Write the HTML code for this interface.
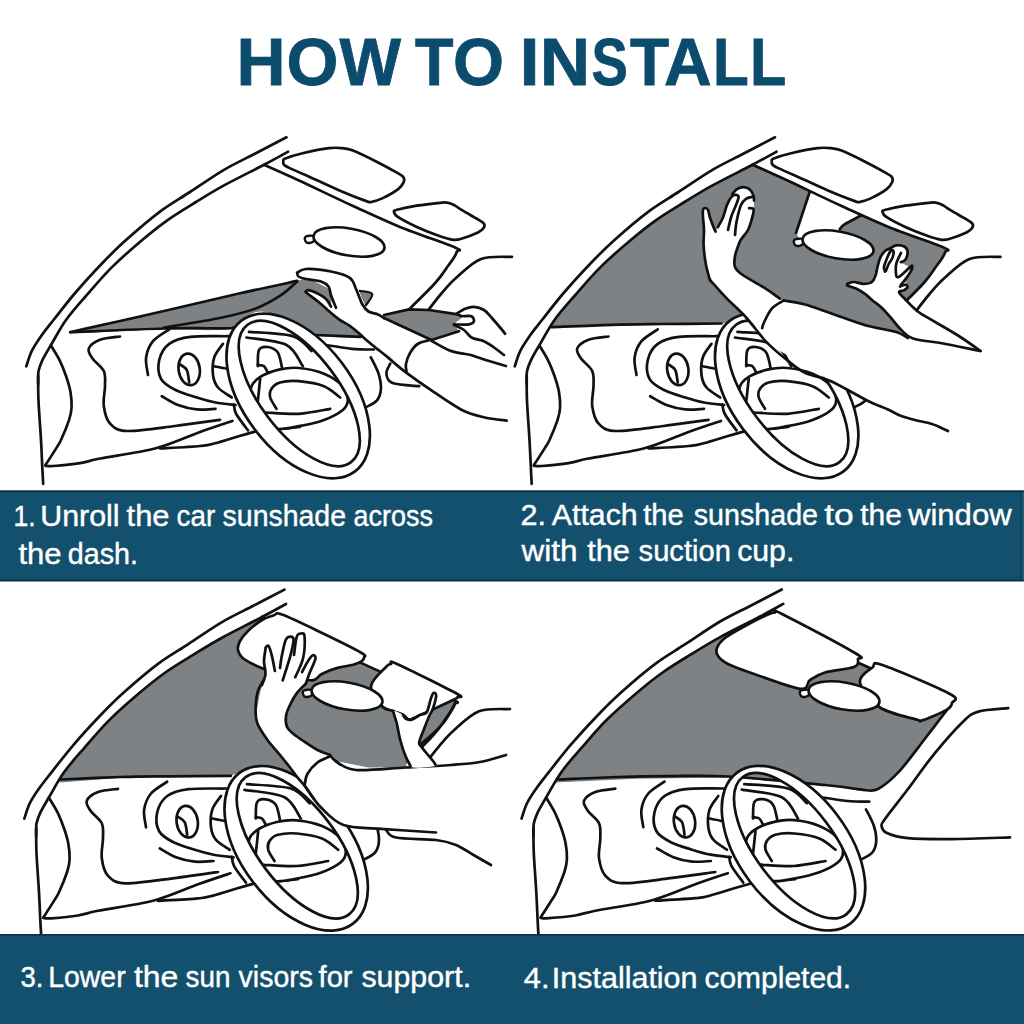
<!DOCTYPE html>
<html><head><meta charset="utf-8">
<style>
html,body{margin:0;padding:0;background:#fff;}
body{width:1024px;height:1024px;position:relative;overflow:hidden;font-family:"Liberation Sans",sans-serif;}
svg{position:absolute;left:0;top:0;}
svg path, svg ellipse{fill:none;stroke:#111;stroke-linecap:round;stroke-linejoin:round;}
svg text{font-family:"Liberation Sans",sans-serif;}
.cap{fill:#fff;font-size:29px;stroke:#fff;stroke-width:0.4px;}
.ttl{fill:#0b4b6d;font-size:67px;font-weight:bold;stroke:#0b4b6d;stroke-width:0.8px;}
</style></head><body>
<svg width="1024" height="1024" viewBox="0 0 1024 1024">
<rect x="0" y="0" width="1024" height="1024" fill="#fff"/>
<path d="M70.0 332.0 C70.0 329.0 135.8 317.4 164.0 311.0 C192.2 304.6 216.8 298.5 239.0 293.5 C261.2 288.5 285.8 283.4 297.0 281.0 C308.2 278.6 300.5 277.5 306.0 279.0 C311.5 280.5 323.5 284.8 330.0 290.0 C336.5 295.2 340.3 303.3 345.0 310.0 C349.7 316.7 355.3 325.4 358.0 330.0 C360.7 334.6 368.0 336.7 361.0 337.5 C354.0 338.3 326.2 337.2 316.0 335.0 C305.8 332.8 305.8 327.1 300.0 324.0 C294.2 320.9 288.3 318.5 281.0 316.5 C273.7 314.5 265.2 309.9 256.0 312.0 C246.8 314.1 241.3 326.2 226.0 329.0 C210.7 331.8 190.0 328.5 164.0 329.0 C138.0 329.5 70.0 335.0 70.0 332.0Z" style="fill:#7e8285;stroke:none"/>
<path d="M360.0 291.0 C361.0 289.2 371.0 291.7 372.0 294.0 C373.0 296.3 368.0 305.5 366.0 305.0 C364.0 304.5 359.0 292.8 360.0 291.0Z" style="fill:#7e8285;stroke:none"/>
<path d="M384.0 315.0 L409.0 309.4 L429.0 310.0 L457.8 314.4 L465.0 317.5 L471.5 321.2 L464.0 323.8 L454.0 324.4 L459.0 331.2 L431.5 340.0 L384.0 320.0Z" style="fill:#7e8285;stroke:none"/>
<path d="M286.5 137.3 C281.3 140.0 265.7 148.1 255.3 153.5 C244.9 158.9 234.9 163.4 224.0 169.8 C213.1 176.2 200.7 185.0 190.0 192.0 C179.3 199.0 170.7 203.6 160.0 211.6 C149.3 219.6 135.8 231.3 126.0 240.0 C116.2 248.7 109.8 255.3 101.5 264.0 C93.2 272.7 84.0 282.7 76.0 292.0 C68.0 301.3 59.3 312.6 53.5 320.0 C47.7 327.4 44.6 331.1 41.0 336.3 C37.4 341.5 34.1 346.3 31.6 351.3 C29.2 356.3 27.2 363.8 26.3 366.3" style="stroke-width:2.7"/>
<path d="M288.0 151.7 C284.0 153.9 274.7 159.1 264.0 164.8 C253.3 170.4 235.3 179.2 224.0 185.4 C212.7 191.6 205.3 196.3 196.0 202.0 C186.7 207.7 177.0 213.4 168.0 219.8 C159.0 226.1 151.6 232.1 142.2 240.0 C132.9 247.9 121.5 257.7 112.0 267.1 C102.5 276.5 93.2 287.7 85.5 296.5 C77.8 305.3 71.8 311.9 66.0 320.0 C60.2 328.1 55.0 338.2 51.0 345.0 C47.0 351.8 44.3 356.2 42.2 360.6 C40.2 365.0 39.2 367.4 38.5 371.2 C37.8 375.1 38.2 381.9 38.2 384.0" style="stroke-width:2.7"/>
<path d="M264.0 164.8 C269.8 167.4 284.3 173.7 299.0 180.5 C313.7 187.3 335.2 197.8 352.0 205.5 C368.8 213.2 382.8 220.0 400.0 227.0 C417.2 234.0 445.5 243.4 455.0 247.5 C464.5 251.6 457.0 249.8 456.8 251.5 C456.6 253.2 455.5 255.1 454.0 257.5 C452.5 259.9 451.1 261.8 448.0 266.0 C444.9 270.2 441.8 275.8 435.2 283.0 C428.8 290.2 413.4 305.0 409.0 309.4" style="stroke-width:2.7"/>
<path d="M428.4 310.0 C430.5 307.3 436.4 299.3 441.0 294.0 C445.6 288.7 449.3 283.8 456.0 278.0 C462.7 272.2 471.7 262.5 481.0 259.0 C490.3 255.5 506.8 257.1 512.0 256.8" style="stroke-width:2.7"/>
<path d="M283.3 161.2 C283.5 160.2 282.1 159.9 285.3 158.6 C288.5 157.3 295.3 155.0 302.6 153.3 C309.9 151.6 322.5 149.0 329.1 148.2 C335.7 147.3 338.4 147.8 342.4 148.2 C346.4 148.6 347.5 148.4 353.0 150.6 C358.5 152.8 368.5 157.7 375.6 161.2 C382.7 164.8 390.9 169.2 395.5 171.9 C400.1 174.6 402.2 175.4 403.5 177.2 C404.8 179.0 404.4 180.5 403.5 182.5 C402.6 184.5 401.8 186.4 398.2 189.1 C394.6 191.8 386.6 196.3 382.2 198.4 C377.8 200.5 374.2 201.3 371.6 201.8 C369.0 202.2 371.2 202.8 366.3 201.1 C361.4 199.4 350.8 195.4 342.4 191.8 C334.0 188.2 324.6 183.8 315.8 179.8 C307.0 175.8 294.6 170.4 289.3 167.9 C284.0 165.4 285.0 165.7 284.0 164.6 C283.0 163.5 283.1 162.2 283.3 161.2Z" style="fill:#fff;stroke-width:2.7"/>
<path d="M394.0 212.0 C393.8 210.8 393.2 210.9 397.0 209.8 C400.8 208.8 409.6 206.9 416.8 205.7 C424.0 204.5 435.0 203.3 440.0 202.8 C445.0 202.3 444.7 202.2 447.0 202.6 C449.3 203.0 451.5 203.7 454.0 205.0 C456.5 206.3 458.0 207.8 462.0 210.2 C466.0 212.6 474.3 217.2 478.0 219.4 C481.7 221.7 483.1 222.2 484.0 223.7 C484.9 225.1 484.6 226.6 483.6 228.1 C482.6 229.6 481.8 230.7 478.0 232.5 C474.2 234.3 464.9 237.8 460.6 239.0 C456.3 240.2 455.6 240.1 452.0 239.6 C448.4 239.1 444.6 237.9 438.7 235.8 C432.8 233.7 423.6 230.1 416.8 227.0 C410.1 223.9 402.0 219.7 398.2 217.2 C394.4 214.7 394.2 213.2 394.0 212.0Z" style="fill:#fff;stroke-width:2.7"/>
<path d="M313.5 236.0 C312.2 235.2 307.4 235.8 306.0 236.5 C304.6 237.2 304.7 238.9 305.0 240.0 C305.3 241.1 306.5 242.8 308.0 243.0 C309.5 243.2 313.1 242.2 314.0 241.0 C314.9 239.8 314.8 236.8 313.5 236.0Z" style="fill:#fff;stroke-width:2.4"/>
<ellipse cx="349.0" cy="242.0" rx="36.0" ry="13.5" transform="rotate(10.0 349.0 242.0)" style="fill:#fff;stroke-width:2.7"/>
<path d="M70.2 332.2 C85.9 328.7 135.9 317.5 164.0 311.0 C192.1 304.5 216.8 298.5 239.0 293.5 C261.2 288.5 287.5 283.0 297.2 280.9" style="stroke-width:2.7"/>
<path d="M70.2 332.2 C85.9 331.6 138.0 329.2 164.0 328.5 C190.0 327.8 215.0 328.5 226.5 328.3 C238.0 328.1 231.9 327.6 233.0 327.5" style="stroke-width:2.7"/>
<path d="M314.6 335.0 C322.2 335.3 352.9 336.6 360.5 336.9" style="stroke-width:2.7"/>
<path d="M164.0 327.5 C173.3 325.9 204.7 321.2 220.0 318.0 C235.3 314.8 245.8 312.2 256.0 308.4 C266.2 304.6 274.1 299.7 281.0 295.2 C287.9 290.8 294.5 283.8 297.2 281.5" style="stroke-width:2.7"/>
<path d="M384.0 315.0 L409.0 309.4 L429.0 310.0 L457.8 314.4 L465.0 317.5" style="stroke-width:2.7"/>
<path d="M359.8 290.9 C361.8 291.4 371.2 291.6 372.2 294.0 C373.3 296.4 367.0 303.4 366.0 305.2" style="stroke-width:2.2"/>
<path d="M51.0 345.6 C52.5 348.1 57.2 355.5 59.8 360.6 C62.2 365.7 64.2 370.8 66.0 376.0 C67.8 381.2 69.5 386.4 70.4 391.6 C71.3 396.8 71.8 402.6 71.6 407.2 C71.4 411.9 70.9 414.3 69.1 419.8 C67.3 425.2 63.1 435.4 61.0 440.0 C58.9 444.6 59.2 443.4 56.6 447.6 C54.0 451.8 47.3 462.2 45.4 465.1" style="stroke-width:2.7"/>
<path d="M38.2 376.0 C38.2 380.2 38.0 390.3 38.5 401.0 C39.0 411.7 40.4 429.2 41.0 440.0 C41.6 450.8 41.9 458.4 42.2 465.8 C42.6 473.1 43.0 480.9 43.2 483.9" style="stroke-width:2.7"/>
<path d="M45.4 465.8 C46.8 465.8 47.7 466.4 53.5 466.0 C59.3 465.6 72.2 464.5 80.0 463.2 C87.8 462.0 87.5 461.0 100.0 458.5 C112.5 456.0 138.3 452.9 155.0 448.5 C171.7 444.1 187.1 436.6 200.0 432.0 C212.9 427.4 227.1 422.8 232.5 421.0" style="stroke-width:2.7"/>
<path d="M160.0 448.5 C166.7 448.1 190.8 446.9 200.0 446.0 C209.2 445.1 205.8 445.7 215.0 443.3 C224.2 440.9 244.7 434.0 255.0 431.6 C265.3 429.2 269.5 430.0 277.0 429.2 C284.5 428.4 296.2 427.3 300.0 426.9" style="stroke-width:2.7"/>
<path d="M233.9 404.6 C234.3 406.2 233.9 409.7 236.2 414.0 C238.6 418.3 246.0 427.7 248.0 430.4" style="stroke-width:2.7"/>
<path d="M120.0 336.5 C116.7 337.0 105.2 337.8 100.0 339.8 C94.8 341.8 90.0 345.4 88.8 348.5 C87.5 351.6 90.0 354.8 92.5 358.5 C95.0 362.2 101.7 366.4 103.8 371.0 C105.8 375.6 105.0 380.2 105.0 386.0 C105.0 391.8 102.9 399.8 103.8 406.0 C104.6 412.2 106.0 419.3 110.0 423.5 C114.0 427.7 116.7 430.6 127.5 431.0 C138.3 431.4 159.6 427.9 175.0 426.0 C190.4 424.1 212.5 420.8 220.0 419.8" style="stroke-width:2.7"/>
<path d="M169.2 329.4 C166.5 331.4 156.9 336.6 153.0 341.2 C149.1 345.9 146.9 351.9 146.1 357.5 C145.3 363.1 147.7 372.1 148.0 375.0" style="stroke-width:2.7"/>
<path d="M240.0 336.0 C238.0 336.0 236.2 336.1 228.0 336.2 C219.8 336.4 200.3 335.6 190.5 336.9 C180.7 338.1 174.5 339.9 169.2 343.8 C164.0 347.6 160.6 354.2 159.2 360.0 C157.9 365.8 158.3 373.8 161.0 378.8 C163.7 383.8 169.5 386.9 175.5 390.0 C181.5 393.1 190.1 395.4 196.8 397.5 C203.4 399.6 209.0 401.2 215.5 402.5 C222.0 403.8 232.2 404.6 235.5 405.0" style="stroke-width:2.7"/>
<ellipse cx="189.2" cy="369.4" rx="10.6" ry="15.9" transform="rotate(-8.0 189.2 369.4)" style="fill:none;stroke-width:2.7"/>
<path d="M179.9 364.4 C181.0 365.3 185.2 367.0 186.8 370.0 C188.3 373.0 188.8 380.4 189.2 382.5" style="stroke-width:2.7"/>
<path d="M161.8 396.2 C164.5 397.7 172.2 402.8 178.0 405.0 C183.8 407.2 190.5 408.8 196.8 409.4 C203.0 410.0 212.4 408.9 215.5 408.8" style="stroke-width:2.7"/>
<path d="M223.0 343.8 C221.5 346.0 215.9 352.3 214.2 357.5 C212.6 362.7 212.4 370.0 213.0 375.0 C213.6 380.0 214.9 383.8 218.0 387.5 C221.1 391.2 229.5 395.8 231.8 397.5" style="stroke-width:2.7"/>
<path d="M214.2 366.2 C216.3 366.7 224.7 368.3 226.8 368.8" style="stroke-width:2.7"/>
<path d="M318.5 344.0 C324.1 344.8 342.8 347.8 352.0 348.8 C361.2 349.7 370.2 349.4 373.9 349.5" style="stroke-width:2.7"/>
<path d="M370.8 357.3 C372.1 360.0 376.9 368.4 378.6 373.8 C380.3 379.1 381.2 385.0 380.9 389.4 C380.6 393.8 379.5 397.3 377.0 400.3 C374.5 403.3 367.8 406.1 366.0 407.3" style="stroke-width:2.7"/>
<path d="M249.0 331.9 C256.3 332.6 282.3 333.1 292.8 336.2 C303.2 339.4 308.4 348.5 311.5 351.0" style="stroke-width:2.7"/>
<path d="M246.5 337.5 C253.2 338.8 277.1 340.2 286.5 345.0 C295.9 349.8 300.0 362.7 302.8 366.2" style="stroke-width:2.7"/>
<path d="M257.8 366.2 C258.0 363.5 257.3 353.2 259.0 350.0 C260.7 346.8 264.6 346.6 267.8 347.0 C270.9 347.4 275.4 349.1 277.8 352.5 C280.1 355.9 281.3 365.0 282.0 367.5" style="stroke-width:2.7"/>
<path d="M257.8 365.0 C258.8 365.2 262.3 365.0 264.0 366.2 C265.7 367.5 267.1 371.5 267.8 372.5" style="stroke-width:2.7"/>
<path d="M251.5 386.2 C253.1 382.0 256.8 379.1 261.5 376.2 C266.2 373.4 273.8 370.8 280.0 369.4 C286.2 368.0 291.7 367.3 299.0 368.0 C306.3 368.7 316.7 370.7 324.0 373.8 C331.3 376.8 338.8 381.9 342.8 386.2 C346.7 390.6 347.8 396.0 347.8 400.0 C347.8 404.0 346.7 406.7 342.8 410.0 C338.8 413.3 331.3 417.3 324.0 420.0 C316.7 422.7 306.9 424.8 299.0 426.2 C291.1 427.7 282.7 429.8 276.5 428.8 C270.3 427.7 266.1 424.5 262.0 420.0 C257.9 415.5 253.8 407.6 252.0 402.0 C250.2 396.4 249.9 390.5 251.5 386.2Z" style="fill:#fff;stroke-width:2.7"/>
<path d="M276.5 408.8 C275.5 406.9 271.1 400.8 270.2 397.5 C269.4 394.2 269.9 391.2 271.5 388.8 C273.1 386.2 275.4 383.8 280.0 382.5 C284.6 381.2 291.7 380.6 299.0 381.2 C306.3 381.9 317.1 383.5 324.0 386.2 C330.9 389.0 337.5 395.6 340.2 397.5" style="stroke-width:2.7"/>
<path d="M265.2 412.5 C270.9 412.7 288.2 414.4 299.0 413.8 C309.8 413.1 325.0 409.6 330.2 408.8" style="stroke-width:2.7"/>
<path d="M260.2 378.8 C260.0 380.6 259.4 386.2 259.0 390.0 C258.6 393.8 258.0 399.4 257.8 401.2" style="stroke-width:2.7"/>
<g transform="rotate(53.0 298.2 396.0)"><path d="M203.8 396.0 a94.4 54.8 0 1 0 188.8 0 a94.4 54.8 0 1 0 -188.8 0Z M210.8 393.6 a86.0 39.2 0 1 0 172.0 0 a86.0 39.2 0 1 0 -172.0 0Z" style="fill:#fff;fill-rule:evenodd;stroke-width:2.7"/></g>
<path d="M297.0 273.0 C298.2 271.8 300.3 269.2 306.0 269.0 C311.7 268.8 323.7 270.0 331.0 271.5 C338.3 273.0 345.8 275.1 350.0 278.0 C354.2 280.9 354.0 284.7 356.0 289.0 C358.0 293.3 359.9 300.2 362.0 304.0 C364.1 307.8 365.8 309.8 368.5 311.5 C371.2 313.2 372.8 311.8 378.0 314.4 C383.2 317.0 391.1 322.7 400.0 327.0 C408.9 331.3 421.7 339.2 431.5 340.0 C441.3 340.8 455.2 334.0 459.0 331.5 C462.8 329.0 453.2 327.6 454.0 325.0 C454.8 322.4 460.7 319.0 464.0 316.0 C467.3 313.0 470.7 308.0 474.0 307.0 C477.3 306.0 481.1 308.2 484.0 310.0 C486.9 311.8 487.8 313.5 491.5 317.5 C495.2 321.5 503.6 316.8 506.0 334.0 C508.4 351.2 509.5 407.1 506.0 421.0 C502.5 434.9 492.2 419.4 484.8 417.5 C477.4 415.6 470.5 414.4 461.4 409.7 C452.3 405.0 439.6 395.9 430.0 389.4 C420.4 382.9 410.6 375.9 403.6 370.6 C396.6 365.3 392.1 360.9 387.9 357.4 C383.6 353.9 381.4 352.2 378.1 349.6 C374.9 347.0 371.6 344.6 368.4 341.8 C365.1 339.0 361.9 335.8 358.6 333.0 C355.3 330.2 352.1 327.5 348.8 325.2 C345.5 322.9 342.2 321.6 339.0 319.3 C335.8 317.0 332.6 314.3 329.3 311.5 C326.1 308.7 323.2 305.8 319.5 302.7 C315.8 299.6 309.1 294.9 306.8 293.0 C304.6 291.1 305.7 292.0 306.0 291.5 C306.3 291.0 306.8 290.0 308.5 290.2 C310.2 290.5 313.1 291.3 316.0 292.8 C318.9 294.2 323.5 297.1 326.0 299.0 C328.5 300.9 330.2 304.6 331.0 304.0 C331.8 303.4 331.4 298.2 331.0 295.2 C330.6 292.3 330.2 288.8 328.5 286.5 C326.8 284.2 324.8 282.8 321.0 281.5 C317.2 280.2 309.8 279.8 306.0 279.0 C302.2 278.2 300.0 277.5 298.5 276.5 C297.0 275.5 295.8 274.2 297.0 273.0Z" style="fill:#fff;stroke:none"/>
<path d="M297.2 272.8 C298.7 272.1 300.4 269.2 306.0 269.0 C311.6 268.8 323.7 270.0 331.0 271.5 C338.3 273.0 345.6 274.8 349.8 277.8 C353.9 280.7 353.9 284.6 356.0 289.0 C358.1 293.4 360.2 300.2 362.2 304.0 C364.3 307.8 365.9 309.8 368.5 311.5 C371.1 313.2 375.4 313.3 378.0 314.4 C380.6 315.5 383.0 317.4 384.0 318.0" style="stroke-width:2.7"/>
<path d="M384.0 318.0 L431.5 340.0 L459.0 331.2" style="stroke-width:2.7"/>
<path d="M297.2 272.8 C297.5 273.4 297.0 275.5 298.5 276.5 C300.0 277.5 302.2 278.2 306.0 279.0 C309.8 279.8 317.2 280.2 321.0 281.5 C324.8 282.8 326.8 284.2 328.5 286.5 C330.2 288.8 329.8 291.7 331.0 295.2 C332.2 298.8 335.2 305.7 336.0 307.8" style="stroke-width:2.7"/>
<path d="M331.0 306.5 C330.2 305.2 328.5 301.3 326.0 299.0 C323.5 296.7 318.9 294.2 316.0 292.8 C313.1 291.3 310.2 290.5 308.5 290.2 C306.8 290.0 306.3 291.0 306.0 291.5 C305.7 292.0 304.6 291.1 306.8 293.0 C309.1 294.9 315.8 299.6 319.5 302.7 C323.2 305.8 326.1 308.7 329.3 311.5 C332.6 314.3 335.8 317.0 339.0 319.3 C342.2 321.6 345.5 322.9 348.8 325.2 C352.1 327.5 355.3 330.2 358.6 333.0 C361.9 335.8 365.1 339.0 368.4 341.8 C371.6 344.6 374.9 347.0 378.1 349.6 C381.4 352.2 383.6 353.9 387.9 357.4 C392.1 360.9 396.6 365.3 403.6 370.6 C410.6 375.9 420.4 382.9 430.0 389.4 C439.6 395.9 452.3 405.0 461.4 409.7 C470.5 414.4 477.2 415.7 484.8 417.5 C492.4 419.3 503.1 420.1 506.7 420.6" style="stroke-width:2.7"/>
<path d="M390.3 363.6 C389.6 365.3 386.0 370.5 386.4 373.8 C386.8 377.0 387.1 380.9 392.6 383.0 C398.1 385.1 414.8 385.7 419.2 386.2" style="stroke-width:2.7"/>
<path d="M456.5 313.8 C458.0 312.9 462.3 309.9 465.2 308.8 C468.2 307.6 470.9 306.7 474.0 306.9 C477.1 307.1 481.1 308.2 484.0 310.0 C486.9 311.8 488.0 313.5 491.5 317.5 C495.0 321.5 503.0 331.0 505.2 333.8" style="stroke-width:2.7"/>
<path d="M464.0 316.2 C465.2 316.2 469.8 315.4 471.5 316.2 C473.2 317.1 474.4 319.9 474.0 321.2 C473.6 322.6 472.3 323.9 469.0 324.4 C465.7 324.9 456.5 324.4 454.0 324.4" style="stroke-width:2.7"/>
<path d="M454.0 325.0 C455.7 325.8 461.1 327.9 464.0 330.0 C466.9 332.1 468.2 335.6 471.5 337.5 C474.8 339.4 480.2 339.6 484.0 341.2 C487.8 342.9 490.7 345.2 494.0 347.5 C497.3 349.8 502.3 353.8 504.0 355.0" style="stroke-width:2.7"/>
<path d="M431.7 341.0 C434.6 342.6 443.9 348.2 448.9 350.3 C453.8 352.4 457.8 352.6 461.4 353.4 C465.0 354.2 466.9 353.9 470.8 355.0 C474.6 356.1 478.9 357.9 484.8 359.7 C490.7 361.5 502.4 364.9 505.9 366.0" style="stroke-width:2.7"/>
<path d="M430.0 340.0 C427.9 340.7 421.0 341.8 417.6 344.0 C414.2 346.2 411.8 350.0 409.8 353.4 C407.9 356.8 406.4 361.1 405.9 364.4 C405.4 367.7 406.6 371.6 406.7 373.0" style="stroke-width:2.7"/>
<path d="M752.5 164.8 L749.7 166.2 L746.6 167.8 L743.3 169.5 L739.9 171.2 L736.4 173.0 L732.8 174.9 L729.1 176.7 L725.5 178.5 L722.0 180.3 L718.7 182.1 L715.5 183.8 L712.5 185.4 L709.7 186.9 L707.1 188.4 L704.7 189.8 L702.3 191.2 L700.0 192.5 L697.8 193.9 L695.6 195.2 L693.4 196.5 L691.2 197.9 L689.0 199.2 L686.8 200.6 L684.5 202.0 L682.2 203.4 L679.8 204.9 L677.4 206.3 L675.1 207.7 L672.7 209.2 L670.4 210.6 L668.0 212.1 L665.7 213.6 L663.3 215.1 L661.0 216.6 L658.8 218.2 L656.5 219.8 L654.3 221.3 L652.1 222.9 L650.0 224.5 L647.9 226.1 L645.8 227.7 L643.8 229.3 L641.7 231.0 L639.6 232.6 L637.5 234.4 L635.3 236.2 L633.0 238.1 L630.8 240.0 L628.4 242.0 L625.9 244.1 L623.4 246.2 L620.9 248.4 L618.3 250.7 L615.7 253.0 L613.1 255.3 L610.5 257.6 L607.9 260.0 L605.4 262.4 L602.9 264.7 L600.5 267.1 L598.1 269.5 L595.8 271.9 L593.4 274.4 L591.1 276.9 L588.8 279.5 L586.6 282.0 L584.4 284.6 L582.2 287.1 L580.0 289.5 L578.0 291.9 L576.0 294.2 L574.0 296.5 L572.1 298.7 L570.3 300.7 L568.5 302.8 L566.8 304.7 L565.2 306.6 L563.5 308.5 L562.0 310.4 L560.4 312.3 L558.9 314.2 L557.4 316.1 L555.9 318.0 L554.5 320.0 L553.1 322.1 L551.7 324.2 L550.3 326.4 L552.0 327.2 L612.0 324.8 L662.0 324.0 L722.0 323.5 L740.0 320.0 L760.0 312.0 L784.0 300.0 L805.0 304.5 L844.0 318.0 L868.0 326.0 L896.0 332.0 L908.0 338.0 L904.0 312.0 L897.5 309.4 L899.6 307.3 L902.5 304.4 L906.0 301.0 L909.8 297.3 L913.7 293.4 L917.5 289.6 L920.9 286.0 L923.8 283.0 L926.0 280.4 L928.0 277.9 L929.8 275.6 L931.4 273.4 L932.8 271.3 L934.1 269.4 L935.3 267.7 L936.5 266.0 L937.6 264.5 L938.5 263.2 L939.4 262.1 L940.1 261.1 L940.8 260.1 L941.4 259.2 L941.9 258.4 L942.5 257.5 L943.0 256.6 L943.5 255.8 L944.0 255.0 L944.4 254.2 L944.7 253.5 L945.0 252.8 L945.2 252.1 L945.3 251.5 L945.3 250.9 L945.1 250.3 L944.9 249.7 L944.6 249.1 L944.2 248.6 L943.9 248.2 L943.7 247.8 L943.5 247.5 L943.5 247.5 L888.5 227.0 L889.0 226.5 L861.0 214.0 L845.0 224.0 L840.0 229.0 L830.0 245.0 L800.0 240.0 L796.0 233.0 L803.0 212.0 L809.8 190.5 L788.0 180.0 L754.2 163.8Z" style="fill:#7e8285;stroke:none"/>
<path d="M775.0 137.3 C769.8 140.0 754.2 148.1 743.8 153.5 C733.4 158.9 723.4 163.4 712.5 169.8 C701.6 176.2 689.2 185.0 678.5 192.0 C667.8 199.0 659.2 203.6 648.5 211.6 C637.8 219.6 624.2 231.3 614.5 240.0 C604.8 248.7 598.3 255.3 590.0 264.0 C581.7 272.7 572.5 282.7 564.5 292.0 C556.5 301.3 547.8 312.6 542.0 320.0 C536.2 327.4 533.1 331.1 529.5 336.3 C525.9 341.5 522.6 346.3 520.1 351.3 C517.6 356.3 515.7 363.8 514.8 366.3" style="stroke-width:2.7"/>
<path d="M776.5 151.7 C772.5 153.9 763.2 159.1 752.5 164.8 C741.8 170.4 723.8 179.2 712.5 185.4 C701.2 191.6 693.8 196.3 684.5 202.0 C675.2 207.7 665.5 213.4 656.5 219.8 C647.5 226.1 640.1 232.1 630.8 240.0 C621.4 247.9 610.0 257.7 600.5 267.1 C591.0 276.5 581.7 287.7 574.0 296.5 C566.3 305.3 560.2 311.9 554.5 320.0 C548.8 328.1 543.5 338.2 539.5 345.0 C535.5 351.8 532.8 356.2 530.8 360.6 C528.7 365.0 527.7 367.4 527.0 371.2 C526.3 375.1 526.8 381.9 526.7 384.0" style="stroke-width:2.7"/>
<path d="M752.5 164.8 C758.3 167.4 772.8 173.7 787.5 180.5 C802.2 187.3 823.7 197.8 840.5 205.5 C857.3 213.2 871.3 220.0 888.5 227.0 C905.7 234.0 934.0 243.4 943.5 247.5 C953.0 251.6 945.5 249.8 945.3 251.5 C945.1 253.2 944.0 255.1 942.5 257.5 C941.0 259.9 939.6 261.8 936.5 266.0 C933.4 270.2 930.2 275.8 923.8 283.0 C917.2 290.2 901.9 305.0 897.5 309.4" style="stroke-width:2.7"/>
<path d="M916.9 310.0 C919.0 307.3 924.9 299.3 929.5 294.0 C934.1 288.7 937.8 283.8 944.5 278.0 C951.2 272.2 960.2 262.5 969.5 259.0 C978.8 255.5 995.3 257.1 1000.5 256.8" style="stroke-width:2.7"/>
<path d="M771.8 161.2 C772.0 160.2 770.6 159.9 773.8 158.6 C777.0 157.3 783.8 155.0 791.1 153.3 C798.4 151.6 811.0 149.0 817.6 148.2 C824.2 147.3 826.9 147.8 830.9 148.2 C834.9 148.6 836.0 148.4 841.5 150.6 C847.0 152.8 857.0 157.7 864.1 161.2 C871.2 164.8 879.4 169.2 884.0 171.9 C888.6 174.6 890.7 175.4 892.0 177.2 C893.3 179.0 892.9 180.5 892.0 182.5 C891.1 184.5 890.2 186.4 886.7 189.1 C883.2 191.8 875.1 196.3 870.7 198.4 C866.3 200.5 862.8 201.3 860.1 201.8 C857.5 202.2 859.7 202.8 854.8 201.1 C849.9 199.4 839.3 195.4 830.9 191.8 C822.5 188.2 813.1 183.8 804.3 179.8 C795.4 175.8 783.1 170.4 777.8 167.9 C772.5 165.4 773.5 165.7 772.5 164.6 C771.5 163.5 771.6 162.2 771.8 161.2Z" style="fill:#fff;stroke-width:2.7"/>
<path d="M882.5 212.0 C882.3 210.8 881.7 210.9 885.5 209.8 C889.3 208.8 898.1 206.9 905.3 205.7 C912.5 204.5 923.5 203.3 928.5 202.8 C933.5 202.3 933.2 202.2 935.5 202.6 C937.8 203.0 940.0 203.7 942.5 205.0 C945.0 206.3 946.5 207.8 950.5 210.2 C954.5 212.6 962.8 217.2 966.5 219.4 C970.2 221.7 971.6 222.2 972.5 223.7 C973.4 225.1 973.1 226.6 972.1 228.1 C971.1 229.6 970.3 230.7 966.5 232.5 C962.7 234.3 953.4 237.8 949.1 239.0 C944.8 240.2 944.1 240.1 940.5 239.6 C936.9 239.1 933.1 237.9 927.2 235.8 C921.3 233.7 912.0 230.1 905.3 227.0 C898.5 223.9 890.5 219.7 886.7 217.2 C882.9 214.7 882.7 213.2 882.5 212.0Z" style="fill:#fff;stroke-width:2.7"/>
<path d="M809.8 191.8 C808.6 195.1 805.3 205.1 803.0 212.0 C800.7 218.9 797.2 229.5 796.0 233.0" style="stroke-width:2.7"/>
<path d="M839.8 229.2 C840.6 228.4 841.2 226.5 844.8 224.2 C848.3 222.0 858.3 217.0 861.0 215.5" style="stroke-width:2.7"/>
<path d="M802.5 239.0 C801.2 238.2 796.4 238.8 795.0 239.5 C793.6 240.2 793.7 241.9 794.0 243.0 C794.3 244.1 795.5 245.8 797.0 246.0 C798.5 246.2 802.1 245.2 803.0 244.0 C803.9 242.8 803.8 239.8 802.5 239.0Z" style="fill:#fff;stroke-width:2.4"/>
<ellipse cx="838.0" cy="245.0" rx="36.0" ry="13.5" transform="rotate(10.0 838.0 245.0)" style="fill:#fff;stroke-width:2.7"/>
<path d="M551.5 327.2 C561.5 326.8 593.2 325.3 611.5 324.8 C629.8 324.2 643.2 324.2 661.5 324.0 C679.8 323.8 711.5 323.6 721.5 323.5" style="stroke-width:2.7"/>
<path d="M539.5 345.6 C541.0 348.1 545.8 355.5 548.2 360.6 C550.8 365.7 552.7 370.8 554.5 376.0 C556.3 381.2 558.0 386.4 558.9 391.6 C559.8 396.8 560.3 402.6 560.1 407.2 C559.9 411.9 559.4 414.3 557.6 419.8 C555.8 425.2 551.6 435.4 549.5 440.0 C547.4 444.6 547.7 443.4 545.1 447.6 C542.5 451.8 535.8 462.2 533.9 465.1" style="stroke-width:2.7"/>
<path d="M526.7 376.0 C526.8 380.2 526.5 390.3 527.0 401.0 C527.5 411.7 528.9 429.2 529.5 440.0 C530.1 450.8 530.4 458.4 530.8 465.8 C531.1 473.1 531.5 480.9 531.7 483.9" style="stroke-width:2.7"/>
<path d="M533.9 465.8 C535.2 465.8 536.2 466.4 542.0 466.0 C547.8 465.6 560.8 464.5 568.5 463.2 C576.2 462.0 576.0 461.0 588.5 458.5 C601.0 456.0 626.8 452.9 643.5 448.5 C660.2 444.1 675.6 436.6 688.5 432.0 C701.4 427.4 715.6 422.8 721.0 421.0" style="stroke-width:2.7"/>
<path d="M648.5 448.5 C655.2 448.1 679.3 446.9 688.5 446.0 C697.7 445.1 694.3 445.7 703.5 443.3 C712.7 440.9 733.2 434.0 743.5 431.6 C753.8 429.2 758.0 430.0 765.5 429.2 C773.0 428.4 784.7 427.3 788.5 426.9" style="stroke-width:2.7"/>
<path d="M722.4 404.6 C722.8 406.2 722.4 409.7 724.8 414.0 C727.1 418.3 734.5 427.7 736.5 430.4" style="stroke-width:2.7"/>
<path d="M608.5 336.5 C605.2 337.0 593.7 337.8 588.5 339.8 C583.3 341.8 578.5 345.4 577.2 348.5 C576.0 351.6 578.5 354.8 581.0 358.5 C583.5 362.2 590.2 366.4 592.2 371.0 C594.3 375.6 593.5 380.2 593.5 386.0 C593.5 391.8 591.4 399.8 592.2 406.0 C593.1 412.2 594.5 419.3 598.5 423.5 C602.5 427.7 605.2 430.6 616.0 431.0 C626.8 431.4 648.1 427.9 663.5 426.0 C678.9 424.1 701.0 420.8 708.5 419.8" style="stroke-width:2.7"/>
<path d="M657.8 329.4 C655.0 331.4 645.4 336.6 641.5 341.2 C637.6 345.9 635.4 351.9 634.6 357.5 C633.8 363.1 636.2 372.1 636.5 375.0" style="stroke-width:2.7"/>
<path d="M728.5 336.0 C726.5 336.0 724.8 336.1 716.5 336.2 C708.2 336.4 688.8 335.6 679.0 336.9 C669.2 338.1 663.0 339.9 657.8 343.8 C652.5 347.6 649.1 354.2 647.8 360.0 C646.4 365.8 646.8 373.8 649.5 378.8 C652.2 383.8 658.0 386.9 664.0 390.0 C670.0 393.1 678.6 395.4 685.2 397.5 C691.9 399.6 697.5 401.2 704.0 402.5 C710.5 403.8 720.7 404.6 724.0 405.0" style="stroke-width:2.7"/>
<ellipse cx="677.8" cy="369.4" rx="10.6" ry="15.9" transform="rotate(-8.0 677.8 369.4)" style="fill:none;stroke-width:2.7"/>
<path d="M668.4 364.4 C669.5 365.3 673.7 367.0 675.2 370.0 C676.8 373.0 677.3 380.4 677.8 382.5" style="stroke-width:2.7"/>
<path d="M650.2 396.2 C653.0 397.7 660.7 402.8 666.5 405.0 C672.3 407.2 679.0 408.8 685.2 409.4 C691.5 410.0 700.9 408.9 704.0 408.8" style="stroke-width:2.7"/>
<path d="M711.5 343.8 C710.0 346.0 704.4 352.3 702.8 357.5 C701.1 362.7 700.9 370.0 701.5 375.0 C702.1 380.0 703.4 383.8 706.5 387.5 C709.6 391.2 718.0 395.8 720.2 397.5" style="stroke-width:2.7"/>
<path d="M702.8 366.2 C704.8 366.7 713.2 368.3 715.2 368.8" style="stroke-width:2.7"/>
<path d="M807.0 344.0 C812.6 344.8 831.3 347.8 840.5 348.8 C849.7 349.7 858.8 349.4 862.4 349.5" style="stroke-width:2.7"/>
<path d="M859.2 357.3 C860.6 360.0 865.4 368.4 867.1 373.8 C868.8 379.1 869.7 385.0 869.4 389.4 C869.1 393.8 868.0 397.3 865.5 400.3 C863.0 403.3 856.3 406.1 854.5 407.3" style="stroke-width:2.7"/>
<path d="M737.5 331.9 C744.8 332.6 770.8 333.1 781.2 336.2 C791.7 339.4 796.9 348.5 800.0 351.0" style="stroke-width:2.7"/>
<path d="M735.0 337.5 C741.7 338.8 765.6 340.2 775.0 345.0 C784.4 349.8 788.5 362.7 791.2 366.2" style="stroke-width:2.7"/>
<path d="M746.2 366.2 C746.5 363.5 745.8 353.2 747.5 350.0 C749.2 346.8 753.1 346.6 756.2 347.0 C759.4 347.4 763.9 349.1 766.2 352.5 C768.6 355.9 769.8 365.0 770.5 367.5" style="stroke-width:2.7"/>
<path d="M746.2 365.0 C747.3 365.2 750.8 365.0 752.5 366.2 C754.2 367.5 755.6 371.5 756.2 372.5" style="stroke-width:2.7"/>
<path d="M740.0 386.2 C741.6 382.0 745.2 379.1 750.0 376.2 C754.8 373.4 762.2 370.8 768.5 369.4 C774.8 368.0 780.2 367.3 787.5 368.0 C794.8 368.7 805.2 370.7 812.5 373.8 C819.8 376.8 827.3 381.9 831.2 386.2 C835.2 390.6 836.2 396.0 836.2 400.0 C836.2 404.0 835.2 406.7 831.2 410.0 C827.3 413.3 819.8 417.3 812.5 420.0 C805.2 422.7 795.4 424.8 787.5 426.2 C779.6 427.7 771.2 429.8 765.0 428.8 C758.8 427.7 754.6 424.5 750.5 420.0 C746.4 415.5 742.2 407.6 740.5 402.0 C738.8 396.4 738.4 390.5 740.0 386.2Z" style="fill:#fff;stroke-width:2.7"/>
<path d="M765.0 408.8 C764.0 406.9 759.6 400.8 758.8 397.5 C757.9 394.2 758.4 391.2 760.0 388.8 C761.6 386.2 763.9 383.8 768.5 382.5 C773.1 381.2 780.2 380.6 787.5 381.2 C794.8 381.9 805.6 383.5 812.5 386.2 C819.4 389.0 826.0 395.6 828.8 397.5" style="stroke-width:2.7"/>
<path d="M753.8 412.5 C759.4 412.7 776.7 414.4 787.5 413.8 C798.3 413.1 813.5 409.6 818.8 408.8" style="stroke-width:2.7"/>
<path d="M748.8 378.8 C748.5 380.6 747.9 386.2 747.5 390.0 C747.1 393.8 746.5 399.4 746.2 401.2" style="stroke-width:2.7"/>
<g transform="rotate(53.0 786.7 396.0)"><path d="M692.3 396.0 a94.4 54.8 0 1 0 188.8 0 a94.4 54.8 0 1 0 -188.8 0Z M699.3 393.6 a86.0 39.2 0 1 0 172.0 0 a86.0 39.2 0 1 0 -172.0 0Z" style="fill:#fff;fill-rule:evenodd;stroke-width:2.7"/></g>
<path d="M703.5 246.0 C702.5 237.7 704.1 234.8 704.0 230.0 C703.9 225.2 703.2 220.8 703.0 217.5 C702.8 214.2 702.6 211.6 703.0 210.0 C703.4 208.4 704.6 208.0 705.4 208.0 C706.2 208.0 707.2 208.4 708.0 210.0 C708.8 211.6 709.1 214.7 710.0 217.5 C710.9 220.3 712.6 224.8 713.5 227.0 C714.4 229.2 714.8 231.0 715.5 231.0 C716.2 231.0 716.8 229.2 718.0 227.0 C719.2 224.8 721.5 221.2 723.0 217.5 C724.5 213.8 725.7 208.3 727.0 205.0 C728.3 201.7 730.0 199.3 731.0 197.5 C732.0 195.7 732.0 195.3 733.0 194.0 C734.0 192.7 735.2 190.6 737.0 189.5 C738.8 188.4 741.4 187.2 743.5 187.2 C745.6 187.2 748.1 188.0 749.8 189.4 C751.4 190.8 752.8 193.3 753.5 195.6 C754.2 197.9 754.0 200.7 754.0 203.0 C754.0 205.3 753.8 207.0 753.5 209.4 C753.2 211.8 753.2 214.1 752.2 217.5 C751.3 220.9 749.9 226.3 748.0 230.0 C746.1 233.7 742.6 236.7 741.0 239.4 C739.4 242.1 739.5 243.2 738.5 246.0 C737.5 248.8 735.6 252.5 735.0 256.0 C734.4 259.5 733.7 263.8 735.0 267.0 C736.3 270.2 737.5 271.4 742.7 275.0 C747.9 278.6 759.8 284.9 766.0 288.8 C772.2 292.7 776.8 296.7 779.8 298.6 C782.8 300.6 779.5 299.5 783.7 300.5 C787.9 301.5 794.9 301.6 805.0 304.5 C815.1 307.4 833.8 314.4 844.2 318.0 C854.8 321.6 859.4 323.7 868.0 326.0 C876.6 328.3 890.5 331.3 896.0 332.0 C901.5 332.7 901.8 332.2 901.0 330.0 C900.2 327.8 894.7 322.2 891.5 318.5 C888.3 314.8 885.1 311.0 882.0 308.0 C878.9 305.0 875.6 303.0 872.8 300.7 C870.0 298.4 868.1 296.1 865.3 294.1 C862.5 292.1 859.0 289.9 856.0 288.5 C853.0 287.1 848.9 286.5 847.5 285.7 C846.1 284.9 846.4 284.4 847.5 283.8 C848.6 283.2 851.4 282.0 854.0 282.0 C856.6 282.0 860.4 283.8 863.4 283.8 C866.4 283.8 869.9 283.4 871.9 282.0 C873.9 280.6 874.7 277.9 875.6 275.4 C876.5 272.9 876.7 270.0 877.5 267.0 C878.3 264.0 879.0 260.3 880.3 257.6 C881.5 254.9 883.3 252.6 885.0 251.0 C886.7 249.4 888.7 249.1 890.6 248.2 C892.5 247.3 894.0 245.7 896.2 245.4 C898.4 245.1 901.8 245.4 903.7 246.3 C905.6 247.2 907.2 248.8 907.5 251.0 C907.8 253.2 906.7 257.5 905.6 259.4 C904.5 261.3 900.2 260.9 901.0 262.2 C901.8 263.4 908.4 266.3 910.3 266.9 C912.2 267.5 912.1 265.4 912.2 266.0 C912.4 266.6 912.3 268.5 911.2 270.7 C910.1 272.9 906.2 276.3 905.6 279.1 C905.0 281.9 907.8 285.6 907.5 287.5 C907.2 289.4 905.1 289.6 903.7 290.4 C902.3 291.2 898.7 290.6 899.0 292.2 C899.3 293.8 902.9 296.9 905.6 299.7 C908.3 302.5 911.9 306.4 915.0 309.1 C918.1 311.8 917.1 311.3 924.3 315.7 C931.5 320.1 948.6 329.7 958.0 335.5 C967.4 341.3 975.2 343.1 980.5 350.5 C985.8 357.9 993.4 365.8 990.0 380.0 C986.6 394.2 967.0 427.5 960.0 436.0 C953.0 444.5 957.1 434.3 948.0 431.0 C938.9 427.7 918.8 421.0 905.5 416.0 C892.2 411.0 880.5 406.8 868.0 401.0 C855.5 395.2 843.0 388.1 830.5 381.0 C818.0 373.9 803.8 365.1 793.0 358.5 C782.2 351.9 773.7 348.4 766.0 341.6 C758.3 334.9 753.1 325.2 746.6 318.0 C740.1 310.8 733.1 304.9 727.0 298.6 C720.9 292.3 713.9 288.8 710.0 280.0 C706.1 271.2 704.5 254.3 703.5 246.0Z" style="fill:#fff;stroke:none"/>
<path d="M710.0 280.0 C709.3 277.5 707.1 270.8 706.0 265.0 C704.9 259.2 703.9 250.8 703.6 245.0 C703.3 239.2 704.1 234.6 704.0 230.0 C703.9 225.4 703.2 220.8 703.0 217.5 C702.8 214.2 702.6 211.6 703.0 210.0 C703.4 208.4 704.6 208.0 705.4 208.0 C706.2 208.0 707.2 208.4 708.0 210.0 C708.8 211.6 709.1 214.7 710.0 217.5 C710.9 220.3 712.6 224.7 713.5 227.0 C714.4 229.3 715.2 230.8 715.5 231.5" style="stroke-width:2.7"/>
<path d="M717.9 227.0 C718.8 225.4 721.5 221.2 723.0 217.5 C724.5 213.8 725.7 208.3 727.0 205.0 C728.3 201.7 729.7 199.2 731.0 197.5 C732.3 195.8 733.5 195.2 734.8 195.0 C736.0 194.8 738.0 195.4 738.5 196.2 C739.0 197.1 738.5 198.0 737.9 200.0 C737.3 202.0 735.9 205.1 734.8 208.0 C733.6 210.9 732.1 213.8 731.0 217.5 C729.9 221.2 728.5 227.9 728.0 230.0" style="stroke-width:2.7"/>
<path d="M732.2 194.4 C733.0 193.6 734.7 190.6 736.6 189.4 C738.5 188.2 741.3 187.2 743.5 187.2 C745.7 187.2 748.1 188.0 749.8 189.4 C751.4 190.8 752.8 193.7 753.5 195.6 C754.2 197.5 753.9 199.8 754.0 200.6" style="stroke-width:2.7"/>
<path d="M752.2 196.9 C751.2 197.2 747.9 197.4 746.0 198.8 C744.1 200.1 742.3 202.3 741.0 205.0 C739.7 207.7 738.8 211.7 738.0 215.0 C737.2 218.3 736.5 221.7 736.0 225.0 C735.5 228.3 735.2 233.3 735.0 235.0" style="stroke-width:2.7"/>
<path d="M749.1 208.1 C749.8 208.3 753.0 207.8 753.5 209.4 C754.0 211.0 753.2 214.1 752.2 217.5 C751.3 220.9 749.9 226.3 748.0 230.0 C746.1 233.7 742.6 236.9 741.0 239.4 C739.4 241.9 739.5 242.2 738.5 245.0 C737.5 247.8 735.6 252.3 735.0 256.0 C734.4 259.7 733.7 263.8 735.0 267.0 C736.3 270.2 737.5 271.4 742.7 275.0 C747.9 278.6 759.8 284.9 766.0 288.8 C772.2 292.7 777.5 297.0 779.8 298.6" style="stroke-width:2.7"/>
<path d="M710.0 280.0 C712.8 283.1 720.9 292.3 727.0 298.6 C733.1 304.9 740.1 310.8 746.6 318.0 C753.1 325.2 759.5 334.8 766.0 341.6 C772.5 348.4 779.2 353.8 785.7 359.0 C792.2 364.2 797.5 369.1 805.0 372.8 C812.5 376.5 820.0 376.3 830.5 381.0 C841.0 385.7 858.4 396.2 868.0 401.0 C877.6 405.8 882.7 407.1 888.0 409.5 C893.3 411.9 895.5 413.8 900.0 415.5 C904.5 417.2 909.7 418.6 915.0 420.0 C920.3 421.4 926.5 422.2 932.0 424.0 C937.5 425.8 945.3 429.8 948.0 431.0" style="stroke-width:2.7"/>
<path d="M783.7 300.5 C781.8 301.8 775.2 304.8 772.0 308.4 C768.8 312.0 765.8 318.7 764.2 322.0 C762.6 325.3 762.5 327.0 762.2 328.0" style="stroke-width:2.7"/>
<path d="M783.7 300.5 C787.2 301.2 794.9 301.6 805.0 304.5 C815.1 307.4 833.7 314.4 844.2 318.0 C854.8 321.6 859.4 323.7 868.1 326.0 C876.8 328.3 889.6 330.0 896.2 332.0 C902.9 334.0 906.0 337.0 908.0 338.0" style="stroke-width:2.7"/>
<path d="M847.5 283.8 C848.6 283.5 851.4 282.0 854.0 282.0 C856.6 282.0 860.4 283.8 863.4 283.8 C866.4 283.8 869.9 283.4 871.9 282.0 C873.9 280.6 874.7 277.9 875.6 275.4 C876.5 272.9 876.7 270.0 877.5 267.0 C878.3 264.0 879.0 260.3 880.3 257.6 C881.5 254.9 883.3 252.6 885.0 251.0 C886.7 249.4 889.7 248.7 890.6 248.2" style="stroke-width:2.7"/>
<path d="M847.5 283.8 C847.5 284.1 846.1 284.9 847.5 285.7 C848.9 286.5 853.0 287.1 856.0 288.5 C859.0 289.9 862.5 292.1 865.3 294.1 C868.1 296.1 870.0 298.4 872.8 300.7 C875.6 303.0 879.1 305.2 882.2 308.2 C885.3 311.2 888.4 314.9 891.5 318.5 C894.6 322.1 897.4 326.4 901.0 329.7 C904.6 333.0 906.0 336.2 913.0 338.5 C920.0 340.8 931.8 341.4 943.0 343.5 C954.2 345.6 974.2 349.8 980.5 351.0" style="stroke-width:2.7"/>
<path d="M885.0 271.6 C884.8 270.8 883.7 269.2 884.0 267.0 C884.3 264.8 885.8 261.2 886.9 258.5 C888.0 255.8 889.5 252.2 890.6 251.0 C891.7 249.8 893.1 249.9 893.4 251.0 C893.7 252.1 893.3 255.4 892.5 257.6 C891.7 259.8 889.8 261.8 888.7 264.0 C887.6 266.2 886.5 269.6 886.0 270.7" style="stroke-width:2.7"/>
<path d="M890.6 248.2 C891.5 247.7 894.0 245.7 896.2 245.4 C898.4 245.1 901.8 245.4 903.7 246.3 C905.6 247.2 907.2 248.8 907.5 251.0 C907.8 253.2 906.7 257.5 905.6 259.4 C904.5 261.3 901.8 261.7 901.0 262.2" style="stroke-width:2.7"/>
<path d="M901.0 252.9 C900.2 254.8 897.0 260.4 896.2 264.1 C895.4 267.9 895.9 273.2 896.2 275.4 C896.5 277.6 897.3 277.2 898.1 277.2 C898.9 277.2 899.0 277.1 901.0 275.4 C903.0 273.7 908.4 268.5 910.3 266.9 C912.2 265.3 912.1 265.4 912.2 266.0 C912.4 266.6 912.3 268.5 911.2 270.7 C910.1 272.9 907.3 276.8 905.6 279.1 C903.9 281.4 901.8 283.8 901.0 284.7" style="stroke-width:2.7"/>
<path d="M900.0 286.6 C900.9 286.3 904.4 284.6 905.6 284.7 C906.9 284.8 907.8 286.6 907.5 287.5 C907.2 288.4 905.1 289.6 903.7 290.4 C902.3 291.2 898.7 290.6 899.0 292.2 C899.3 293.8 902.9 296.9 905.6 299.7 C908.3 302.5 911.9 306.4 915.0 309.1 C918.1 311.8 917.1 311.3 924.3 315.7 C931.5 320.1 948.6 329.6 958.0 335.5 C967.4 341.4 976.8 348.4 980.5 351.0" style="stroke-width:2.7"/>
<path d="M58.4 780.9 L59.8 778.7 L61.2 776.5 L62.6 774.4 L64.0 772.3 L65.4 770.3 L66.9 768.4 L68.4 766.5 L69.9 764.6 L71.5 762.7 L73.0 760.8 L74.7 758.9 L76.3 757.0 L78.0 755.1 L79.8 753.0 L81.6 751.0 L83.5 748.8 L85.5 746.5 L87.5 744.2 L89.5 741.8 L91.7 739.4 L93.9 736.9 L96.1 734.3 L98.3 731.8 L100.6 729.2 L102.9 726.7 L105.3 724.2 L107.6 721.8 L110.0 719.4 L112.4 717.0 L114.9 714.7 L117.4 712.3 L120.0 709.9 L122.6 707.6 L125.2 705.3 L127.8 703.0 L130.4 700.7 L132.9 698.5 L135.4 696.4 L137.9 694.3 L140.2 692.3 L142.5 690.4 L144.8 688.5 L147.0 686.7 L149.1 684.9 L151.2 683.3 L153.3 681.6 L155.3 680.0 L157.4 678.4 L159.5 676.8 L161.6 675.2 L163.8 673.6 L166.0 672.0 L168.3 670.5 L170.5 668.9 L172.8 667.4 L175.2 665.9 L177.5 664.4 L179.9 662.9 L182.2 661.5 L184.6 660.0 L186.9 658.6 L189.3 657.2 L191.7 655.7 L194.0 654.3 L196.3 652.9 L198.5 651.5 L200.7 650.2 L202.9 648.8 L205.1 647.5 L207.2 646.2 L209.5 644.8 L211.8 643.5 L214.2 642.1 L216.6 640.7 L219.2 639.2 L222.0 637.7 L225.0 636.1 L228.2 634.4 L231.5 632.6 L235.0 630.8 L238.6 629.0 L242.2 627.2 L245.9 625.3 L249.4 623.5 L252.8 621.8 L256.1 620.1 L259.2 618.5 L262.0 617.0 L262.0 617.0 L264.6 618.2 L267.9 619.7 L271.8 621.4 L276.2 623.4 L281.0 625.5 L286.2 627.8 L291.5 630.3 L297.0 632.8 L302.8 635.5 L309.1 638.5 L315.8 641.7 L322.7 644.9 L329.7 648.3 L336.7 651.6 L343.5 654.8 L350.0 657.8 L356.2 660.7 L362.2 663.4 L368.1 666.2 L373.9 668.8 L379.7 671.5 L385.6 674.1 L391.7 676.7 L398.0 679.3 L404.9 682.1 L412.5 685.0 L420.5 688.0 L428.5 690.9 L436.1 693.7 L443.0 696.1 L448.7 698.2 L453.0 699.8 L453.2 700.1 L453.4 700.5 L453.7 700.9 L454.1 701.4 L454.4 702.0 L454.6 702.6 L454.8 703.2 L454.8 703.8 L454.7 704.4 L454.5 705.1 L454.2 705.8 L453.9 706.5 L453.5 707.3 L453.0 708.1 L452.5 708.9 L452.0 709.8 L451.4 710.7 L450.9 711.5 L450.3 712.4 L449.6 713.4 L448.9 714.4 L448.0 715.5 L447.1 716.8 L446.0 718.3 L444.8 720.0 L443.6 721.7 L442.3 723.6 L440.9 725.7 L439.3 727.9 L437.5 730.2 L435.5 732.7 L433.2 735.3 L430.4 738.3 L427.0 741.9 L423.2 745.7 L419.3 749.6 L415.5 753.3 L412.0 756.7 L409.1 759.6 L407.0 761.7 L406.0 767.5 L368.5 767.5 L336.0 761.0 L326.0 757.5 L311.0 770.0 L300.0 780.0 L282.5 770.0 L257.5 767.5 L232.5 775.0 L220.0 776.0 L125.0 777.5 L60.0 782.5Z" style="fill:#7e8285;stroke:none"/>
<path d="M284.5 589.6 C279.3 592.3 263.7 600.4 253.3 605.8 C242.9 611.2 232.9 615.7 222.0 622.1 C211.1 628.5 198.7 637.3 188.0 644.3 C177.3 651.3 168.7 655.9 158.0 663.9 C147.3 671.9 133.8 683.6 124.0 692.3 C114.2 701.0 107.8 707.6 99.5 716.3 C91.2 725.0 82.0 735.0 74.0 744.3 C66.0 753.6 57.3 764.9 51.5 772.3 C45.7 779.7 42.6 783.4 39.0 788.6 C35.4 793.8 32.1 798.6 29.6 803.6 C27.2 808.6 25.2 816.1 24.3 818.6" style="stroke-width:2.7"/>
<path d="M286.0 604.0 C282.0 606.2 272.7 611.4 262.0 617.0 C251.3 622.7 233.3 631.5 222.0 637.7 C210.7 643.9 203.3 648.6 194.0 654.3 C184.7 660.0 175.0 665.7 166.0 672.0 C157.0 678.4 149.6 684.4 140.2 692.3 C130.9 700.2 119.5 710.0 110.0 719.4 C100.5 728.8 91.2 740.0 83.5 748.8 C75.8 757.6 69.8 764.2 64.0 772.3 C58.2 780.4 53.0 790.5 49.0 797.3 C45.0 804.1 42.3 808.5 40.2 812.9 C38.2 817.3 37.2 819.6 36.5 823.5 C35.8 827.4 36.2 834.2 36.2 836.3" style="stroke-width:2.7"/>
<path d="M262.0 617.0 C267.8 619.7 282.3 626.0 297.0 632.8 C311.7 639.6 333.2 650.0 350.0 657.8 C366.8 665.5 380.8 672.3 398.0 679.3 C415.2 686.3 443.5 695.7 453.0 699.8 C462.5 703.9 455.0 702.1 454.8 703.8 C454.6 705.5 453.5 707.4 452.0 709.8 C450.5 712.2 449.1 714.0 446.0 718.3 C442.9 722.5 439.8 728.1 433.2 735.3 C426.8 742.5 411.4 757.3 407.0 761.7" style="stroke-width:2.7"/>
<path d="M426.4 762.3 C428.5 759.6 434.4 751.6 439.0 746.3 C443.6 741.0 447.3 736.1 454.0 730.3 C460.7 724.5 469.7 714.8 479.0 711.3 C488.3 707.8 504.8 709.4 510.0 709.0" style="stroke-width:2.7"/>
<path d="M61.0 779.5 C71.0 779.1 102.7 777.6 121.0 777.0 C139.3 776.5 152.7 776.5 171.0 776.3 C189.3 776.1 221.0 775.9 231.0 775.8" style="stroke-width:2.7"/>
<path d="M49.0 797.9 C50.5 800.4 55.2 807.8 57.8 812.9 C60.2 818.0 62.2 823.1 64.0 828.3 C65.8 833.5 67.5 838.7 68.4 843.9 C69.3 849.1 69.8 854.9 69.6 859.5 C69.4 864.2 68.9 866.6 67.1 872.0 C65.3 877.5 61.1 887.7 59.0 892.3 C56.9 896.9 57.2 895.7 54.6 899.9 C52.0 904.1 45.3 914.5 43.4 917.4" style="stroke-width:2.7"/>
<path d="M36.2 828.3 C36.2 832.5 36.0 842.6 36.5 853.3 C37.0 864.0 38.4 881.5 39.0 892.3 C39.6 903.1 39.9 910.7 40.2 918.0 C40.6 925.4 41.0 933.2 41.2 936.2" style="stroke-width:2.7"/>
<path d="M43.4 918.0 C44.8 918.1 45.7 918.7 51.5 918.3 C57.3 917.9 70.2 916.8 78.0 915.5 C85.8 914.3 85.5 913.3 98.0 910.8 C110.5 908.3 136.3 905.2 153.0 900.8 C169.7 896.4 185.1 888.9 198.0 884.3 C210.9 879.7 225.1 875.1 230.5 873.3" style="stroke-width:2.7"/>
<path d="M158.0 900.8 C164.7 900.4 188.8 899.2 198.0 898.3 C207.2 897.4 203.8 898.0 213.0 895.6 C222.2 893.2 242.7 886.3 253.0 883.9 C263.3 881.6 267.5 882.3 275.0 881.5 C282.5 880.7 294.2 879.6 298.0 879.2" style="stroke-width:2.7"/>
<path d="M231.9 856.9 C232.3 858.5 231.9 862.0 234.2 866.3 C236.6 870.6 244.0 880.0 246.0 882.7" style="stroke-width:2.7"/>
<path d="M118.0 788.8 C114.7 789.3 103.2 790.0 98.0 792.0 C92.8 794.0 88.0 797.7 86.8 800.8 C85.5 803.9 88.0 807.0 90.5 810.8 C93.0 814.5 99.7 818.7 101.8 823.3 C103.8 827.9 103.0 832.5 103.0 838.3 C103.0 844.1 100.9 852.0 101.8 858.3 C102.6 864.5 104.0 871.6 108.0 875.8 C112.0 880.0 114.7 882.9 125.5 883.3 C136.3 883.7 157.6 880.2 173.0 878.3 C188.4 876.4 210.5 873.1 218.0 872.0" style="stroke-width:2.7"/>
<path d="M167.2 781.7 C164.5 783.7 154.9 788.9 151.0 793.5 C147.1 798.2 144.9 804.2 144.1 809.8 C143.3 815.4 145.7 824.4 146.0 827.3" style="stroke-width:2.7"/>
<path d="M238.0 788.3 C236.0 788.3 234.2 788.4 226.0 788.5 C217.8 788.7 198.3 788.0 188.5 789.2 C178.7 790.5 172.5 792.2 167.2 796.0 C162.0 799.9 158.6 806.5 157.2 812.3 C155.9 818.1 156.3 826.0 159.0 831.0 C161.7 836.0 167.5 839.2 173.5 842.3 C179.5 845.4 188.1 847.7 194.8 849.8 C201.4 851.9 207.0 853.5 213.5 854.8 C220.0 856.0 230.2 856.9 233.5 857.3" style="stroke-width:2.7"/>
<ellipse cx="187.2" cy="821.7" rx="10.6" ry="15.9" transform="rotate(-8.0 187.2 821.7)" style="fill:none;stroke-width:2.7"/>
<path d="M177.9 816.7 C179.0 817.6 183.2 819.3 184.8 822.3 C186.3 825.3 186.8 832.7 187.2 834.8" style="stroke-width:2.7"/>
<path d="M159.8 848.5 C162.5 850.0 170.2 855.1 176.0 857.3 C181.8 859.5 188.5 861.1 194.8 861.7 C201.0 862.3 210.4 861.2 213.5 861.0" style="stroke-width:2.7"/>
<path d="M221.0 796.0 C219.5 798.3 213.9 804.6 212.2 809.8 C210.6 815.0 210.4 822.3 211.0 827.3 C211.6 832.3 212.9 836.0 216.0 839.8 C219.1 843.5 227.5 848.1 229.8 849.8" style="stroke-width:2.7"/>
<path d="M212.2 818.5 C214.3 819.0 222.7 820.6 224.8 821.0" style="stroke-width:2.7"/>
<path d="M316.5 796.3 C322.1 797.1 340.8 800.1 350.0 801.0 C359.2 802.0 368.2 801.7 371.9 801.8" style="stroke-width:2.7"/>
<path d="M368.8 809.6 C370.1 812.3 374.9 820.7 376.6 826.0 C378.3 831.4 379.2 837.3 378.9 841.7 C378.6 846.1 377.5 849.6 375.0 852.6 C372.5 855.6 365.8 858.4 364.0 859.6" style="stroke-width:2.7"/>
<path d="M247.0 784.2 C254.3 784.9 280.3 785.4 290.8 788.5 C301.2 791.7 306.4 800.8 309.5 803.3" style="stroke-width:2.7"/>
<path d="M244.5 789.8 C251.2 791.0 275.1 792.5 284.5 797.3 C293.9 802.1 298.0 815.0 300.8 818.5" style="stroke-width:2.7"/>
<path d="M255.8 818.5 C256.0 815.8 255.3 805.5 257.0 802.3 C258.7 799.1 262.6 798.9 265.8 799.3 C268.9 799.7 273.4 801.4 275.8 804.8 C278.1 808.2 279.3 817.3 280.0 819.8" style="stroke-width:2.7"/>
<path d="M255.8 817.3 C256.8 817.5 260.3 817.3 262.0 818.5 C263.7 819.8 265.1 823.8 265.8 824.8" style="stroke-width:2.7"/>
<path d="M249.5 838.5 C251.1 834.3 254.8 831.4 259.5 828.5 C264.2 825.7 271.8 823.1 278.0 821.7 C284.2 820.3 289.7 819.6 297.0 820.3 C304.3 821.0 314.7 823.0 322.0 826.0 C329.3 829.1 336.8 834.2 340.8 838.5 C344.7 842.9 345.8 848.3 345.8 852.3 C345.8 856.3 344.7 859.0 340.8 862.3 C336.8 865.6 329.3 869.6 322.0 872.3 C314.7 875.0 304.9 877.1 297.0 878.5 C289.1 880.0 280.7 882.1 274.5 881.0 C268.3 880.0 264.1 876.8 260.0 872.3 C255.9 867.8 251.8 859.9 250.0 854.3 C248.2 848.7 247.9 842.8 249.5 838.5Z" style="fill:#fff;stroke-width:2.7"/>
<path d="M274.5 861.0 C273.5 859.2 269.1 853.1 268.2 849.8 C267.4 846.5 267.9 843.5 269.5 841.0 C271.1 838.5 273.4 836.0 278.0 834.8 C282.6 833.5 289.7 832.9 297.0 833.5 C304.3 834.2 315.1 835.8 322.0 838.5 C328.9 841.3 335.5 847.9 338.2 849.8" style="stroke-width:2.7"/>
<path d="M263.2 864.8 C268.9 865.0 286.2 866.7 297.0 866.0 C307.8 865.4 323.0 861.9 328.2 861.0" style="stroke-width:2.7"/>
<path d="M258.2 831.0 C258.0 832.9 257.4 838.5 257.0 842.3 C256.6 846.0 256.0 851.7 255.8 853.5" style="stroke-width:2.7"/>
<g transform="rotate(53.0 296.2 848.3)"><path d="M201.8 848.3 a94.4 54.8 0 1 0 188.8 0 a94.4 54.8 0 1 0 -188.8 0Z M208.8 845.9 a86.0 39.2 0 1 0 172.0 0 a86.0 39.2 0 1 0 -172.0 0Z" style="fill:#fff;fill-rule:evenodd;stroke-width:2.7"/></g>
<path d="M274.0 615.2 C277.3 614.3 274.3 611.8 282.0 614.6 C289.7 617.4 306.9 625.7 320.0 632.0 C333.1 638.3 353.5 648.2 360.8 652.5 C368.1 656.8 364.0 656.0 364.0 657.5 C364.0 659.0 362.8 660.4 361.0 661.6 C359.2 662.8 356.9 663.7 353.0 664.8 C349.1 665.8 342.6 666.4 337.4 667.9 C332.2 669.4 325.9 671.9 321.8 674.0 C317.6 676.1 317.7 680.1 312.4 680.4 C307.1 680.7 297.8 677.8 290.0 676.0 C282.2 674.2 273.2 672.2 265.5 669.4 C257.8 666.6 248.6 662.2 244.0 659.0 C239.4 655.8 238.7 653.0 238.0 650.0 C237.3 647.0 238.3 644.2 240.0 641.0 C241.7 637.8 244.3 634.5 248.0 631.0 C251.7 627.5 257.7 622.6 262.0 620.0 C266.3 617.4 270.7 616.1 274.0 615.2Z" style="fill:#fff;stroke-width:2.7"/>
<path d="M371.0 686.0 C371.7 679.5 382.7 670.7 386.0 667.0 C389.3 663.3 389.2 664.5 391.0 664.0 C392.8 663.5 386.1 659.1 397.0 664.0 C407.9 668.9 446.4 688.0 456.5 693.5 C466.6 699.0 457.9 696.0 457.5 697.0 C457.1 698.0 461.0 696.1 454.0 699.5 C447.0 702.9 423.0 713.9 415.5 717.2 C408.0 720.6 411.3 720.2 409.2 719.8 C407.2 719.3 405.7 716.2 403.0 714.8 C400.3 713.3 396.5 712.5 393.0 711.0 C389.5 709.5 385.4 710.2 381.8 706.0 C378.1 701.8 370.3 692.5 371.0 686.0Z" style="fill:#fff;stroke-width:2.7"/>
<path d="M311.5 690.0 C310.2 689.2 305.4 689.8 304.0 690.5 C302.6 691.2 302.7 692.9 303.0 694.0 C303.3 695.1 304.5 696.8 306.0 697.0 C307.5 697.2 311.1 696.2 312.0 695.0 C312.9 693.8 312.8 690.8 311.5 690.0Z" style="fill:#fff;stroke-width:2.4"/>
<ellipse cx="347.0" cy="696.0" rx="36.0" ry="13.5" transform="rotate(10.0 347.0 696.0)" style="fill:#fff;stroke-width:2.7"/>
<path d="M256.0 716.0 C256.0 712.9 256.9 709.8 257.7 705.4 C258.5 701.0 259.5 695.0 260.8 689.8 C262.1 684.5 265.0 678.7 265.5 674.0 C266.0 669.3 264.0 665.8 264.0 661.6 C264.0 657.4 265.2 651.3 265.5 649.0 C265.8 646.7 265.0 648.1 265.5 647.6 C266.0 647.1 267.6 644.7 268.6 646.0 C269.6 647.3 270.7 651.2 271.8 655.4 C272.8 659.6 273.2 670.2 274.9 671.0 C276.6 671.8 280.2 665.2 282.0 660.0 C283.8 654.8 284.4 643.6 285.8 639.8 C287.2 635.9 289.2 636.6 290.5 636.6 C291.8 636.6 293.4 636.7 293.6 639.8 C293.9 642.8 291.9 650.3 292.0 655.0 C292.1 659.7 293.2 671.1 294.0 668.0 C294.8 664.9 295.5 642.4 296.8 636.6 C298.0 630.9 300.1 633.5 301.4 633.5 C302.7 633.5 304.3 632.4 304.6 636.6 C304.9 640.8 303.8 652.9 303.0 658.5 C302.2 664.1 299.2 669.5 300.0 670.0 C300.8 670.5 305.6 664.0 307.7 661.6 C309.8 659.2 311.1 655.9 312.4 655.4 C313.7 654.9 316.0 655.4 315.5 658.5 C315.0 661.6 310.8 669.8 309.2 674.0 C307.7 678.2 308.1 680.4 306.0 683.5 C303.9 686.6 299.4 689.3 296.8 692.9 C294.1 696.5 291.8 701.1 290.0 705.0 C288.2 708.9 286.5 712.3 286.0 716.0 C285.5 719.7 285.8 724.1 287.0 727.0 C288.2 729.9 290.6 731.4 293.0 733.5 C295.4 735.6 297.2 736.8 301.2 739.5 C305.3 742.2 312.7 747.4 317.5 750.0 C322.3 752.6 326.9 753.2 330.0 755.0 C333.1 756.8 331.7 758.5 336.0 761.0 C340.3 763.5 344.3 768.9 356.0 770.0 C367.7 771.1 390.2 768.3 406.0 767.5 C421.8 766.7 434.3 767.1 451.0 765.0 C467.7 762.9 495.8 756.7 506.0 755.0 C516.2 753.3 511.0 735.8 512.0 755.0 C513.0 774.2 515.5 851.7 512.0 870.0 C508.5 888.3 497.4 867.5 491.0 865.0 C484.6 862.5 479.3 858.3 473.5 855.0 C467.7 851.7 462.2 847.5 456.0 845.0 C449.8 842.5 439.3 842.1 436.0 840.0 C432.7 837.9 445.2 834.4 436.0 832.5 C426.8 830.6 396.4 830.0 381.0 828.8 C365.6 827.5 353.5 828.5 343.5 825.0 C333.5 821.5 327.2 813.8 321.0 807.5 C314.8 801.2 309.9 792.5 306.0 787.5 C302.1 782.5 300.2 780.8 297.5 777.5 C294.8 774.2 292.9 771.2 290.0 767.5 C287.1 763.8 283.8 759.6 280.0 755.0 C276.2 750.4 271.2 745.2 267.5 740.0 C263.8 734.8 259.4 727.8 257.5 723.8 C255.6 719.8 256.0 719.1 256.0 716.0Z" style="fill:#fff;stroke:none"/>
<path d="M263.8 680.0 C262.7 682.1 258.9 687.3 257.5 692.5 C256.1 697.7 255.6 706.0 255.6 711.2 C255.6 716.5 255.5 719.0 257.5 723.8 C259.5 728.5 263.8 734.8 267.5 740.0 C271.2 745.2 276.2 750.4 280.0 755.0 C283.8 759.6 287.1 763.8 290.0 767.5 C292.9 771.2 295.0 774.4 297.5 777.5 C300.0 780.6 302.3 782.7 305.0 786.2 C307.7 789.8 312.3 796.7 313.8 798.8" style="stroke-width:2.7"/>
<path d="M265.5 649.0 C265.2 651.1 264.0 657.4 264.0 661.6 C264.0 665.8 265.8 670.1 265.5 674.0 C265.2 677.9 262.6 683.2 262.0 685.0" style="stroke-width:2.7"/>
<path d="M265.5 647.6 C266.0 647.3 267.6 644.7 268.6 646.0 C269.6 647.3 270.7 651.2 271.8 655.4 C272.8 659.6 274.4 668.4 274.9 671.0" style="stroke-width:2.7"/>
<path d="M282.7 680.4 C284.0 676.2 288.7 662.2 290.5 655.4 C292.3 648.6 293.6 642.9 293.6 639.8 C293.6 636.6 291.8 636.6 290.5 636.6 C289.2 636.6 287.2 636.7 285.8 639.8 C284.4 642.8 283.0 650.3 282.0 655.0 C281.0 659.7 280.3 665.8 280.0 668.0" style="stroke-width:2.7"/>
<path d="M295.2 677.2 C296.5 674.1 301.4 665.3 303.0 658.5 C304.6 651.7 304.9 640.8 304.6 636.6 C304.3 632.4 302.7 633.5 301.4 633.5 C300.1 633.5 298.0 633.0 296.8 636.6 C295.5 640.2 294.5 651.9 294.0 655.0" style="stroke-width:2.7"/>
<path d="M306.0 683.5 C306.5 681.9 307.7 678.2 309.2 674.0 C310.8 669.8 315.0 661.6 315.5 658.5 C316.0 655.4 313.7 654.9 312.4 655.4 C311.1 655.9 309.4 658.8 307.7 661.6 C306.0 664.4 302.9 670.3 302.0 672.0" style="stroke-width:2.7"/>
<path d="M306.0 683.5 C304.5 685.1 299.7 689.3 297.0 692.9 C294.3 696.5 291.8 701.1 290.0 705.0 C288.2 708.9 286.5 712.3 286.0 716.0 C285.5 719.7 285.8 724.1 287.0 727.0 C288.2 729.9 290.6 731.4 293.0 733.5 C295.4 735.6 297.2 736.8 301.2 739.5 C305.3 742.2 312.7 747.4 317.5 750.0 C322.3 752.6 327.9 754.2 330.0 755.0" style="stroke-width:2.7"/>
<path d="M330.0 756.2 C327.9 757.3 321.2 759.6 317.5 762.5 C313.8 765.4 309.6 770.2 307.5 773.8 C305.4 777.3 305.2 781.5 305.0 783.8 C304.8 786.0 303.3 783.5 306.0 787.5 C308.7 791.5 314.8 801.2 321.0 807.5 C327.2 813.8 333.5 821.5 343.5 825.0 C353.5 828.5 365.6 827.5 381.0 828.8 C396.4 830.0 426.8 831.9 436.0 832.5" style="stroke-width:2.7"/>
<path d="M330.0 755.0 C331.0 756.0 331.7 758.8 336.0 761.2 C340.3 763.8 344.3 769.0 356.0 770.0 C367.7 771.0 390.2 768.3 406.0 767.5 C421.8 766.7 438.7 765.9 451.0 765.0 C463.3 764.1 470.8 763.7 480.0 762.0 C489.2 760.3 501.7 756.2 506.0 755.0" style="stroke-width:2.7"/>
<path d="M386.0 830.0 C387.7 831.2 387.7 835.8 396.0 837.5 C404.3 839.2 426.0 838.8 436.0 840.0 C446.0 841.2 449.8 842.5 456.0 845.0 C462.2 847.5 467.7 851.7 473.5 855.0 C479.3 858.3 488.1 863.3 491.0 865.0" style="stroke-width:2.7"/>
<path d="M335.0 761.0 C335.8 761.7 339.2 764.3 340.0 765.0" style="stroke-width:2.0"/>
<path d="M393.0 711.0 C394.0 709.5 400.9 713.5 403.0 714.8 C405.1 716.0 404.0 717.7 405.5 718.5 C407.0 719.3 409.2 720.4 411.8 719.8 C414.2 719.1 418.0 716.0 420.5 714.8 C423.0 713.5 425.1 714.8 426.8 712.2 C428.4 709.8 429.5 702.9 430.5 699.8 C431.5 696.6 432.2 694.5 433.0 693.5 C433.8 692.5 435.0 692.9 435.5 693.5 C436.0 694.1 436.4 694.8 436.0 697.2 C435.6 699.8 434.1 705.4 433.0 708.5 C431.9 711.6 430.7 712.7 429.2 716.0 C427.8 719.3 425.9 724.1 424.2 728.5 C422.6 732.9 419.7 739.1 419.2 742.2 C418.8 745.4 419.5 744.1 421.8 747.2 C424.0 750.4 430.7 757.9 433.0 761.0 C435.3 764.1 439.2 765.0 435.5 766.0 C431.8 767.0 415.5 768.7 410.5 767.0 C405.5 765.3 407.2 760.3 405.5 756.0 C403.8 751.7 402.0 746.4 400.5 741.0 C399.0 735.6 398.0 728.5 396.8 723.5 C395.5 718.5 392.0 712.5 393.0 711.0Z" style="fill:#fff;stroke:none"/>
<path d="M393.0 711.0 C393.6 713.1 395.5 718.5 396.8 723.5 C398.0 728.5 399.0 735.6 400.5 741.0 C402.0 746.4 403.8 751.8 405.5 756.0 C407.2 760.2 409.7 764.3 410.5 766.0" style="stroke-width:2.7"/>
<path d="M403.0 714.8 C403.4 715.4 404.0 717.7 405.5 718.5 C407.0 719.3 409.2 720.4 411.8 719.8 C414.2 719.1 418.0 716.0 420.5 714.8 C423.0 713.5 425.1 714.8 426.8 712.2 C428.4 709.8 429.5 702.9 430.5 699.8 C431.5 696.6 432.2 694.5 433.0 693.5 C433.8 692.5 435.0 692.9 435.5 693.5 C436.0 694.1 436.4 694.8 436.0 697.2 C435.6 699.8 434.1 705.4 433.0 708.5 C431.9 711.6 430.7 712.7 429.2 716.0 C427.8 719.3 425.9 724.1 424.2 728.5 C422.6 732.9 419.7 739.1 419.2 742.2 C418.8 745.4 419.5 744.1 421.8 747.2 C424.0 750.4 430.7 758.1 433.0 761.0 C435.3 763.9 435.1 764.1 435.5 764.8" style="stroke-width:2.7"/>
<path d="M455.5 702.2 C453.4 705.8 448.8 716.5 443.0 723.5 C437.2 730.5 424.7 740.6 421.0 744.0" style="stroke-width:2.7"/>
<path d="M555.7 780.8 L557.1 778.6 L558.5 776.4 L559.9 774.3 L561.3 772.2 L562.7 770.2 L564.2 768.3 L565.7 766.4 L567.2 764.5 L568.8 762.6 L570.3 760.7 L572.0 758.8 L573.6 756.9 L575.3 755.0 L577.1 752.9 L578.9 750.9 L580.8 748.7 L582.8 746.4 L584.8 744.1 L586.8 741.7 L589.0 739.3 L591.2 736.8 L593.4 734.2 L595.6 731.7 L597.9 729.1 L600.2 726.6 L602.6 724.1 L604.9 721.7 L607.3 719.3 L609.7 716.9 L612.2 714.6 L614.7 712.2 L617.3 709.8 L619.9 707.5 L622.5 705.2 L625.1 702.9 L627.7 700.6 L630.2 698.4 L632.7 696.3 L635.2 694.2 L637.5 692.2 L639.8 690.3 L642.1 688.4 L644.3 686.6 L646.4 684.9 L648.5 683.2 L650.6 681.5 L652.6 679.9 L654.7 678.3 L656.8 676.7 L658.9 675.1 L661.1 673.5 L663.3 672.0 L665.6 670.4 L667.8 668.8 L670.1 667.3 L672.5 665.8 L674.8 664.3 L677.2 662.8 L679.5 661.4 L681.9 659.9 L684.2 658.5 L686.6 657.1 L689.0 655.6 L691.3 654.2 L693.6 652.8 L695.8 651.4 L698.0 650.1 L700.2 648.7 L702.4 647.4 L704.6 646.1 L706.8 644.7 L709.1 643.4 L711.5 642.0 L713.9 640.6 L716.5 639.1 L719.3 637.6 L722.3 636.0 L725.5 634.3 L728.8 632.5 L732.3 630.7 L735.9 628.9 L739.6 627.1 L743.2 625.2 L746.7 623.4 L750.1 621.7 L753.4 620.0 L756.5 618.4 L759.3 617.0 L759.3 617.0 L761.9 618.1 L765.2 619.6 L769.1 621.3 L773.5 623.3 L778.3 625.4 L783.5 627.7 L788.8 630.2 L794.3 632.7 L800.1 635.4 L806.4 638.4 L813.1 641.6 L820.0 644.8 L827.0 648.2 L834.0 651.5 L840.8 654.7 L847.3 657.7 L853.5 660.6 L859.5 663.3 L865.4 666.1 L871.2 668.7 L877.0 671.4 L882.9 674.0 L889.0 676.6 L895.3 679.2 L902.2 682.0 L909.8 684.9 L917.8 687.9 L925.8 690.8 L933.4 693.6 L940.3 696.0 L946.0 698.1 L950.3 699.7 L952.0 703.0 L948.4 708.0 L925.5 738.0 L899.2 771.4 L878.0 789.0 L864.0 790.0 L825.0 785.0 L727.0 777.5 L637.0 778.8 L554.5 782.5Z" style="fill:#7e8285;stroke:none"/>
<path d="M781.8 589.5 C776.6 592.2 761.0 600.3 750.6 605.7 C740.2 611.1 730.2 615.6 719.3 622.0 C708.4 628.4 696.0 637.2 685.3 644.2 C674.6 651.2 666.0 655.8 655.3 663.8 C644.6 671.8 631.0 683.5 621.3 692.2 C611.5 700.9 605.1 707.5 596.8 716.2 C588.5 724.9 579.3 734.9 571.3 744.2 C563.3 753.5 554.6 764.8 548.8 772.2 C543.0 779.6 539.9 783.3 536.3 788.5 C532.6 793.7 529.3 798.5 526.9 803.5 C524.5 808.5 522.5 816.0 521.6 818.5" style="stroke-width:2.7"/>
<path d="M783.3 603.9 C779.3 606.1 770.0 611.3 759.3 617.0 C748.6 622.6 730.6 631.4 719.3 637.6 C708.0 643.8 700.6 648.5 691.3 654.2 C682.0 659.9 672.3 665.6 663.3 672.0 C654.3 678.3 646.9 684.3 637.5 692.2 C628.2 700.1 616.8 709.9 607.3 719.3 C597.8 728.7 588.5 739.9 580.8 748.7 C573.1 757.5 567.0 764.1 561.3 772.2 C555.5 780.3 550.3 790.4 546.3 797.2 C542.3 804.0 539.6 808.4 537.5 812.8 C535.5 817.2 534.5 819.6 533.8 823.5 C533.1 827.4 533.5 834.1 533.5 836.2" style="stroke-width:2.7"/>
<path d="M759.3 617.0 C765.1 619.6 779.6 625.9 794.3 632.7 C809.0 639.5 830.5 650.0 847.3 657.7 C864.1 665.5 887.3 675.6 895.3 679.2" style="stroke-width:2.7"/>
<path d="M948.4 708.0 C944.6 713.0 933.7 727.4 925.5 738.0 C917.3 748.6 907.1 762.9 899.2 771.4 C891.3 779.9 883.9 785.9 878.0 789.0 C872.1 792.1 866.3 789.8 864.0 790.0" style="stroke-width:2.7"/>
<path d="M1008.2 708.1 C1003.2 708.7 985.9 709.2 978.3 711.6 C970.7 714.0 969.8 715.2 962.5 722.2 C955.2 729.2 943.4 742.7 934.3 753.8 C925.2 764.9 916.2 778.1 908.0 789.0 C899.8 799.9 889.4 812.8 885.0 819.0 C880.6 825.2 881.3 823.7 881.6 826.0 C881.9 828.3 882.5 831.0 886.9 833.0 C891.3 835.0 897.2 837.2 908.0 838.2 C918.8 839.2 934.9 839.2 951.9 839.1 C968.9 839.0 1000.3 837.7 1010.0 837.4" style="stroke-width:2.7"/>
<path d="M558.3 779.5 C568.3 779.1 600.0 777.5 618.3 777.0 C636.6 776.5 650.0 776.3 668.3 776.2 C686.6 776.1 702.2 775.0 728.3 776.5 C754.4 778.0 802.4 782.8 825.0 785.0 C847.6 787.2 857.5 789.2 864.0 790.0" style="stroke-width:2.7"/>
<path d="M546.3 797.8 C547.8 800.3 552.5 807.7 555.0 812.8 C557.5 817.9 559.5 823.0 561.3 828.2 C563.1 833.4 564.8 838.6 565.7 843.8 C566.6 849.0 567.1 854.8 566.9 859.5 C566.7 864.1 566.2 866.5 564.4 872.0 C562.6 877.4 558.4 887.6 556.3 892.2 C554.2 896.8 554.5 895.6 551.9 899.8 C549.3 904.0 542.6 914.4 540.7 917.3" style="stroke-width:2.7"/>
<path d="M533.5 828.2 C533.5 832.4 533.3 842.5 533.8 853.2 C534.3 863.9 535.7 881.4 536.3 892.2 C536.9 903.0 537.2 910.6 537.5 918.0 C537.9 925.3 538.3 933.1 538.5 936.1" style="stroke-width:2.7"/>
<path d="M540.7 918.0 C542.1 918.0 543.0 918.6 548.8 918.2 C554.6 917.8 567.5 916.7 575.3 915.5 C583.0 914.2 582.8 913.2 595.3 910.7 C607.8 908.2 633.6 905.1 650.3 900.7 C667.0 896.3 682.4 888.8 695.3 884.2 C708.2 879.6 722.4 875.0 727.8 873.2" style="stroke-width:2.7"/>
<path d="M655.3 900.7 C662.0 900.3 686.1 899.1 695.3 898.2 C704.5 897.3 701.1 897.9 710.3 895.5 C719.5 893.1 740.0 886.1 750.3 883.8 C760.6 881.4 764.8 882.2 772.3 881.4 C779.8 880.6 791.5 879.5 795.3 879.1" style="stroke-width:2.7"/>
<path d="M729.2 856.8 C729.6 858.4 729.2 861.9 731.5 866.2 C733.9 870.5 741.3 879.9 743.3 882.6" style="stroke-width:2.7"/>
<path d="M615.3 788.7 C612.0 789.2 600.5 790.0 595.3 792.0 C590.1 794.0 585.3 797.6 584.0 800.7 C582.8 803.8 585.3 807.0 587.8 810.7 C590.3 814.5 597.0 818.6 599.0 823.2 C601.1 827.8 600.3 832.4 600.3 838.2 C600.3 844.0 598.2 852.0 599.0 858.2 C599.9 864.5 601.3 871.5 605.3 875.7 C609.3 879.9 612.0 882.8 622.8 883.2 C633.6 883.6 654.9 880.1 670.3 878.2 C685.7 876.3 707.8 873.0 715.3 872.0" style="stroke-width:2.7"/>
<path d="M664.5 781.6 C661.8 783.6 652.2 788.8 648.3 793.5 C644.4 798.1 642.2 804.1 641.4 809.7 C640.6 815.3 643.0 824.3 643.3 827.2" style="stroke-width:2.7"/>
<path d="M735.3 788.2 C733.3 788.2 731.5 788.3 723.3 788.5 C715.0 788.6 695.6 787.8 685.8 789.1 C676.0 790.3 669.8 792.1 664.5 796.0 C659.3 799.8 655.9 806.4 654.5 812.2 C653.2 818.0 653.6 826.0 656.3 831.0 C659.0 836.0 664.8 839.1 670.8 842.2 C676.8 845.3 685.4 847.6 692.0 849.7 C698.7 851.8 704.3 853.5 710.8 854.7 C717.3 856.0 727.5 856.8 730.8 857.2" style="stroke-width:2.7"/>
<ellipse cx="684.5" cy="821.6" rx="10.6" ry="15.9" transform="rotate(-8.0 684.5 821.6)" style="fill:none;stroke-width:2.7"/>
<path d="M675.2 816.6 C676.3 817.5 680.5 819.2 682.0 822.2 C683.6 825.2 684.1 832.6 684.5 834.7" style="stroke-width:2.7"/>
<path d="M657.0 848.5 C659.8 849.9 667.5 855.0 673.3 857.2 C679.1 859.4 685.8 861.0 692.0 861.6 C698.3 862.2 707.7 861.1 710.8 861.0" style="stroke-width:2.7"/>
<path d="M718.3 796.0 C716.8 798.2 711.2 804.5 709.5 809.7 C707.9 814.9 707.7 822.2 708.3 827.2 C708.9 832.2 710.2 836.0 713.3 839.7 C716.4 843.5 724.8 848.0 727.0 849.7" style="stroke-width:2.7"/>
<path d="M709.5 818.5 C711.6 818.9 720.0 820.5 722.0 821.0" style="stroke-width:2.7"/>
<path d="M813.8 796.2 C819.4 797.0 838.1 800.0 847.3 801.0 C856.5 801.9 865.6 801.6 869.2 801.7" style="stroke-width:2.7"/>
<path d="M866.0 809.5 C867.4 812.2 872.2 820.6 873.9 826.0 C875.6 831.3 876.5 837.2 876.2 841.6 C875.9 846.0 874.8 849.5 872.3 852.5 C869.8 855.5 863.1 858.3 861.3 859.5" style="stroke-width:2.7"/>
<path d="M744.3 784.1 C751.6 784.8 777.6 785.3 788.0 788.5 C798.5 791.6 803.7 800.7 806.8 803.2" style="stroke-width:2.7"/>
<path d="M741.8 789.7 C748.5 791.0 772.4 792.4 781.8 797.2 C791.2 802.0 795.3 814.9 798.0 818.5" style="stroke-width:2.7"/>
<path d="M753.0 818.5 C753.3 815.7 752.6 805.4 754.3 802.2 C756.0 799.0 759.9 798.8 763.0 799.2 C766.2 799.6 770.7 801.3 773.0 804.7 C775.4 808.1 776.6 817.2 777.3 819.7" style="stroke-width:2.7"/>
<path d="M753.0 817.2 C754.1 817.4 757.6 817.2 759.3 818.5 C761.0 819.7 762.4 823.7 763.0 824.7" style="stroke-width:2.7"/>
<path d="M746.8 838.5 C748.4 834.2 752.0 831.3 756.8 828.5 C761.5 825.6 769.0 823.0 775.3 821.6 C781.5 820.2 787.0 819.5 794.3 820.2 C801.6 820.9 812.0 822.9 819.3 826.0 C826.6 829.0 834.1 834.1 838.0 838.5 C842.0 842.8 843.0 848.2 843.0 852.2 C843.0 856.2 842.0 858.9 838.0 862.2 C834.1 865.5 826.6 869.5 819.3 872.2 C812.0 874.9 802.2 877.0 794.3 878.5 C786.4 879.9 778.0 882.0 771.8 881.0 C765.6 879.9 761.4 876.7 757.3 872.2 C753.2 867.7 749.0 859.8 747.3 854.2 C745.5 848.6 745.2 842.7 746.8 838.5Z" style="fill:#fff;stroke-width:2.7"/>
<path d="M771.8 861.0 C770.8 859.1 766.4 853.0 765.5 849.7 C764.7 846.4 765.2 843.5 766.8 841.0 C768.4 838.5 770.7 836.0 775.3 834.7 C779.9 833.5 787.0 832.8 794.3 833.5 C801.6 834.1 812.4 835.7 819.3 838.5 C826.2 841.2 832.8 847.8 835.5 849.7" style="stroke-width:2.7"/>
<path d="M760.5 864.7 C766.2 864.9 783.5 866.6 794.3 866.0 C805.1 865.3 820.3 861.8 825.5 861.0" style="stroke-width:2.7"/>
<path d="M755.5 831.0 C755.3 832.8 754.7 838.5 754.3 842.2 C753.9 846.0 753.3 851.6 753.0 853.5" style="stroke-width:2.7"/>
<g transform="rotate(53.0 793.5 848.2)"><path d="M699.1 848.2 a94.4 54.8 0 1 0 188.8 0 a94.4 54.8 0 1 0 -188.8 0Z M706.1 845.8 a86.0 39.2 0 1 0 172.0 0 a86.0 39.2 0 1 0 -172.0 0Z" style="fill:#fff;fill-rule:evenodd;stroke-width:2.7"/></g>
<path d="M768.0 614.5 C773.0 612.2 772.7 612.4 775.0 612.3 C777.3 612.2 768.7 607.2 782.0 614.0 C795.3 620.8 842.3 645.5 855.0 653.0 C867.7 660.5 858.2 656.7 858.0 659.0 C857.8 661.3 859.5 664.8 854.0 667.0 C848.5 669.2 832.3 670.3 825.0 672.5 C817.7 674.7 814.2 677.3 810.0 680.0 C805.8 682.7 810.0 690.0 800.0 688.8 C790.0 687.5 762.0 676.6 750.0 672.5 C738.0 668.4 733.3 666.8 728.0 664.0 C722.7 661.2 719.8 658.7 718.0 656.0 C716.2 653.3 715.8 651.0 717.0 648.0 C718.2 645.0 720.3 641.7 725.0 638.0 C729.7 634.3 737.8 629.9 745.0 626.0 C752.2 622.1 763.0 616.8 768.0 614.5Z" style="fill:#fff;stroke-width:2.7"/>
<path d="M860.0 682.5 C858.8 675.8 868.8 670.4 872.5 667.5 C876.2 664.6 869.6 660.6 882.5 665.0 C895.4 669.4 938.4 687.7 950.0 694.0 C961.6 700.3 952.6 700.2 952.0 702.9 C951.4 705.5 951.6 707.0 946.6 709.9 C941.6 712.8 927.0 718.8 922.0 720.4 C917.0 722.0 923.7 721.8 916.7 719.6 C909.7 717.5 889.5 713.7 880.0 707.5 C870.5 701.3 861.2 689.2 860.0 682.5Z" style="fill:#fff;stroke-width:2.7"/>
<path d="M808.5 690.0 C807.2 689.2 802.4 689.8 801.0 690.5 C799.6 691.2 799.7 692.9 800.0 694.0 C800.3 695.1 801.5 696.8 803.0 697.0 C804.5 697.2 808.1 696.2 809.0 695.0 C809.9 693.8 809.8 690.8 808.5 690.0Z" style="fill:#fff;stroke-width:2.4"/>
<ellipse cx="844.0" cy="696.0" rx="36.0" ry="13.5" transform="rotate(10.0 844.0 696.0)" style="fill:#fff;stroke-width:2.7"/>
<rect x="0" y="490.5" width="1024" height="90.8" fill="#13506e"/>
<rect x="0" y="490.5" width="1024" height="1.8" fill="#0c2f4f"/>
<rect x="0" y="579.5" width="1024" height="1.8" fill="#0c2f4f"/>
<rect x="1020.6" y="492" width="1.3" height="88" fill="#0d3a55"/>
<rect x="1022" y="492" width="2" height="88" fill="#1d5d7c"/>
<rect x="0" y="934" width="1024" height="90" fill="#13506e"/>
<rect x="0" y="934" width="1024" height="1.6" fill="#0c2f4f"/>
<text class="ttl" x="236.50" y="84.75" textLength="49.10" lengthAdjust="spacingAndGlyphs">H</text>
<text class="ttl" x="286.60" y="84.75" textLength="51.93" lengthAdjust="spacingAndGlyphs">O</text>
<text class="ttl" x="339.50" y="84.75" textLength="61.51" lengthAdjust="spacingAndGlyphs">W</text>
<text class="ttl" x="415.00" y="84.75" textLength="38.48" lengthAdjust="spacingAndGlyphs">T</text>
<text class="ttl" x="453.00" y="84.75" textLength="51.07" lengthAdjust="spacingAndGlyphs">O</text>
<text class="ttl" x="519.50" y="84.75" textLength="20.10" lengthAdjust="spacingAndGlyphs">I</text>
<text class="ttl" x="540.00" y="84.75" textLength="50.00" lengthAdjust="spacingAndGlyphs">N</text>
<text class="ttl" x="591.60" y="84.75" textLength="36.35" lengthAdjust="spacingAndGlyphs">S</text>
<text class="ttl" x="630.00" y="84.75" textLength="39.08" lengthAdjust="spacingAndGlyphs">T</text>
<text class="ttl" x="664.00" y="84.75" textLength="47.66" lengthAdjust="spacingAndGlyphs">A</text>
<text class="ttl" x="713.00" y="84.75" textLength="35.80" lengthAdjust="spacingAndGlyphs">L</text>
<text class="ttl" x="750.00" y="84.75" textLength="36.27" lengthAdjust="spacingAndGlyphs">L</text>
<text class="cap" x="13.40" y="526.25" textLength="22.22" lengthAdjust="spacingAndGlyphs">1.</text>
<text class="cap" x="40.20" y="526.25" textLength="79.40" lengthAdjust="spacingAndGlyphs">Unroll</text>
<text class="cap" x="126.60" y="526.25" textLength="42.88" lengthAdjust="spacingAndGlyphs">the</text>
<text class="cap" x="176.60" y="526.25" textLength="38.66" lengthAdjust="spacingAndGlyphs">car</text>
<text class="cap" x="222.60" y="526.25" textLength="123.43" lengthAdjust="spacingAndGlyphs">sunshade</text>
<text class="cap" x="353.60" y="526.25" textLength="79.45" lengthAdjust="spacingAndGlyphs">across</text>
<text class="cap" x="18.40" y="563.60" textLength="43.08" lengthAdjust="spacingAndGlyphs">the</text>
<text class="cap" x="67.80" y="563.60" textLength="70.21" lengthAdjust="spacingAndGlyphs">dash.</text>
<text class="cap" x="520.60" y="525.40" textLength="25.46" lengthAdjust="spacingAndGlyphs">2.</text>
<text class="cap" x="551.80" y="525.40" textLength="85.85" lengthAdjust="spacingAndGlyphs">Attach</text>
<text class="cap" x="643.20" y="525.40" textLength="40.51" lengthAdjust="spacingAndGlyphs">the</text>
<text class="cap" x="693.80" y="525.40" textLength="124.22" lengthAdjust="spacingAndGlyphs">sunshade</text>
<text class="cap" x="824.20" y="525.40" textLength="29.55" lengthAdjust="spacingAndGlyphs">to</text>
<text class="cap" x="860.20" y="525.40" textLength="41.66" lengthAdjust="spacingAndGlyphs">the</text>
<text class="cap" x="908.00" y="525.40" textLength="103.60" lengthAdjust="spacingAndGlyphs">window</text>
<text class="cap" x="521.60" y="560.50" textLength="55.88" lengthAdjust="spacingAndGlyphs">with</text>
<text class="cap" x="587.20" y="560.50" textLength="42.70" lengthAdjust="spacingAndGlyphs">the</text>
<text class="cap" x="638.60" y="560.50" textLength="92.29" lengthAdjust="spacingAndGlyphs">suction</text>
<text class="cap" x="737.20" y="560.50" textLength="57.12" lengthAdjust="spacingAndGlyphs">cup.</text>
<text class="cap" x="20.60" y="987.00" textLength="22.89" lengthAdjust="spacingAndGlyphs">3.</text>
<text class="cap" x="48.20" y="987.00" textLength="77.47" lengthAdjust="spacingAndGlyphs">Lower</text>
<text class="cap" x="134.00" y="987.00" textLength="44.34" lengthAdjust="spacingAndGlyphs">the</text>
<text class="cap" x="185.60" y="987.00" textLength="44.91" lengthAdjust="spacingAndGlyphs">sun</text>
<text class="cap" x="238.60" y="987.00" textLength="74.43" lengthAdjust="spacingAndGlyphs">visors</text>
<text class="cap" x="318.60" y="987.00" textLength="33.87" lengthAdjust="spacingAndGlyphs">for</text>
<text class="cap" x="361.40" y="987.00" textLength="109.71" lengthAdjust="spacingAndGlyphs">support.</text>
<text class="cap" x="523.80" y="987.50" textLength="25.78" lengthAdjust="spacingAndGlyphs">4.</text>
<text class="cap" x="551.80" y="987.50" textLength="145.74" lengthAdjust="spacingAndGlyphs">Installation</text>
<text class="cap" x="704.40" y="987.50" textLength="146.71" lengthAdjust="spacingAndGlyphs">completed.</text>
</svg>
</body></html>
